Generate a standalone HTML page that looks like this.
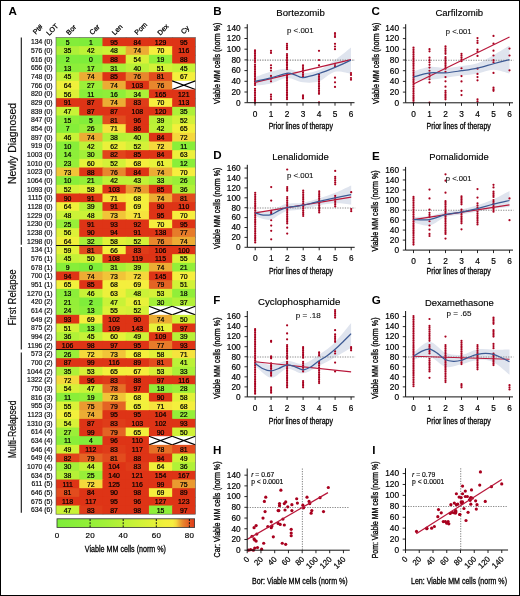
<!DOCTYPE html>
<html><head><meta charset="utf-8"><style>
html,body{margin:0;padding:0;background:#fff;}
svg{display:block;font-family:"Liberation Sans", sans-serif;will-change:transform;}
text{stroke:#000;stroke-width:0.18px;}
text.nb{stroke:none;}
.hm text{stroke-width:0.22px;}
</style></head><body>
<svg width="520" height="596" viewBox="0 0 520 596">
<rect x="0" y="0" width="520" height="596" fill="#fff"/>
<g>
<rect x="56.00" y="37.50" width="24.23" height="9.67" fill="#83ed3a"/>
<rect x="79.23" y="37.50" width="24.23" height="9.67" fill="#7fed3a"/>
<rect x="102.47" y="37.50" width="24.23" height="9.67" fill="#de3416"/>
<rect x="125.70" y="37.50" width="24.23" height="9.67" fill="#de3416"/>
<rect x="148.93" y="37.50" width="24.23" height="9.67" fill="#de3416"/>
<rect x="172.17" y="37.50" width="23.23" height="9.67" fill="#de3416"/>
<rect x="56.00" y="46.17" width="24.23" height="9.67" fill="#aef038"/>
<rect x="79.23" y="46.17" width="24.23" height="9.67" fill="#bef237"/>
<rect x="102.47" y="46.17" width="24.23" height="9.67" fill="#cbf237"/>
<rect x="125.70" y="46.17" width="24.23" height="9.67" fill="#ecac34"/>
<rect x="148.93" y="46.17" width="24.23" height="9.67" fill="#f6ee3e"/>
<rect x="172.17" y="46.17" width="23.23" height="9.67" fill="#de3416"/>
<rect x="56.00" y="54.83" width="24.23" height="9.67" fill="#80ed3a"/>
<rect x="79.23" y="54.83" width="24.23" height="9.67" fill="#7eed3a"/>
<rect x="102.47" y="54.83" width="24.23" height="9.67" fill="#de3416"/>
<rect x="125.70" y="54.83" width="24.23" height="9.67" fill="#d8f138"/>
<rect x="148.93" y="54.83" width="24.23" height="9.67" fill="#92ef38"/>
<rect x="172.17" y="54.83" width="23.23" height="9.67" fill="#de3416"/>
<rect x="56.00" y="63.50" width="24.23" height="9.67" fill="#8cee39"/>
<rect x="79.23" y="63.50" width="24.23" height="9.67" fill="#90ee39"/>
<rect x="102.47" y="63.50" width="24.23" height="9.67" fill="#a6f038"/>
<rect x="125.70" y="63.50" width="24.23" height="9.67" fill="#baf137"/>
<rect x="148.93" y="63.50" width="24.23" height="9.67" fill="#d2f237"/>
<rect x="172.17" y="63.50" width="23.23" height="9.67" fill="#c5f237"/>
<rect x="56.00" y="72.17" width="24.23" height="9.67" fill="#c5f237"/>
<rect x="79.23" y="72.17" width="24.23" height="9.67" fill="#ecac34"/>
<rect x="102.47" y="72.17" width="24.23" height="9.67" fill="#de3416"/>
<rect x="125.70" y="72.17" width="24.23" height="9.67" fill="#e8872d"/>
<rect x="148.93" y="72.17" width="24.23" height="9.67" fill="#e24c1e"/>
<rect x="172.17" y="72.17" width="23.23" height="9.67" fill="#f4ef3d"/>
<rect x="56.00" y="80.84" width="24.23" height="9.67" fill="#f0f03b"/>
<rect x="79.23" y="80.84" width="24.23" height="9.67" fill="#9cef38"/>
<rect x="102.47" y="80.84" width="24.23" height="9.67" fill="#ecac34"/>
<rect x="125.70" y="80.84" width="24.23" height="9.67" fill="#de3416"/>
<rect x="148.93" y="80.84" width="24.23" height="9.67" fill="#e8872d"/>
<rect x="172.17" y="80.84" width="23.53" height="8.97" fill="#fff"/>
<path d="M172.17 80.84L195.40 89.50M195.40 80.84L172.17 89.50" stroke="#000" stroke-width="1.15" fill="none"/>
<rect x="56.00" y="89.50" width="24.23" height="9.67" fill="#ddf138"/>
<rect x="79.23" y="89.50" width="24.23" height="9.67" fill="#89ee39"/>
<rect x="102.47" y="89.50" width="24.23" height="9.67" fill="#8fee39"/>
<rect x="125.70" y="89.50" width="24.23" height="9.67" fill="#acf038"/>
<rect x="148.93" y="89.50" width="24.23" height="9.67" fill="#de3416"/>
<rect x="172.17" y="89.50" width="23.23" height="9.67" fill="#de3416"/>
<rect x="56.00" y="98.17" width="24.23" height="9.67" fill="#de3416"/>
<rect x="79.23" y="98.17" width="24.23" height="9.67" fill="#de3416"/>
<rect x="102.47" y="98.17" width="24.23" height="9.67" fill="#ecac34"/>
<rect x="125.70" y="98.17" width="24.23" height="9.67" fill="#df3c19"/>
<rect x="148.93" y="98.17" width="24.23" height="9.67" fill="#f6ee3e"/>
<rect x="172.17" y="98.17" width="23.23" height="9.67" fill="#de3416"/>
<rect x="56.00" y="106.84" width="24.23" height="9.67" fill="#c9f237"/>
<rect x="79.23" y="106.84" width="24.23" height="9.67" fill="#de3416"/>
<rect x="102.47" y="106.84" width="24.23" height="9.67" fill="#de3416"/>
<rect x="125.70" y="106.84" width="24.23" height="9.67" fill="#de3416"/>
<rect x="148.93" y="106.84" width="24.23" height="9.67" fill="#de3416"/>
<rect x="172.17" y="106.84" width="23.23" height="9.67" fill="#aef038"/>
<rect x="56.00" y="115.51" width="24.23" height="9.67" fill="#8eee39"/>
<rect x="79.23" y="115.51" width="24.23" height="9.67" fill="#83ed3a"/>
<rect x="102.47" y="115.51" width="24.23" height="9.67" fill="#e24c1e"/>
<rect x="125.70" y="115.51" width="24.23" height="9.67" fill="#de3416"/>
<rect x="148.93" y="115.51" width="24.23" height="9.67" fill="#b8f137"/>
<rect x="172.17" y="115.51" width="23.23" height="9.67" fill="#d4f138"/>
<rect x="56.00" y="124.17" width="24.23" height="9.67" fill="#85ee39"/>
<rect x="79.23" y="124.17" width="24.23" height="9.67" fill="#9aef38"/>
<rect x="102.47" y="124.17" width="24.23" height="9.67" fill="#f6e33d"/>
<rect x="125.70" y="124.17" width="24.23" height="9.67" fill="#de3416"/>
<rect x="148.93" y="124.17" width="24.23" height="9.67" fill="#bef237"/>
<rect x="172.17" y="124.17" width="23.23" height="9.67" fill="#f2f03c"/>
<rect x="56.00" y="132.84" width="24.23" height="9.67" fill="#c7f237"/>
<rect x="79.23" y="132.84" width="24.23" height="9.67" fill="#ecac34"/>
<rect x="102.47" y="132.84" width="24.23" height="9.67" fill="#b5f137"/>
<rect x="125.70" y="132.84" width="24.23" height="9.67" fill="#baf137"/>
<rect x="148.93" y="132.84" width="24.23" height="9.67" fill="#de3416"/>
<rect x="172.17" y="132.84" width="23.23" height="9.67" fill="#f5d83c"/>
<rect x="56.00" y="141.51" width="24.23" height="9.67" fill="#88ee39"/>
<rect x="79.23" y="141.51" width="24.23" height="9.67" fill="#bef237"/>
<rect x="102.47" y="141.51" width="24.23" height="9.67" fill="#ebf03a"/>
<rect x="125.70" y="141.51" width="24.23" height="9.67" fill="#d4f138"/>
<rect x="148.93" y="141.51" width="24.23" height="9.67" fill="#f5d83c"/>
<rect x="172.17" y="141.51" width="23.23" height="9.67" fill="#89ee39"/>
<rect x="56.00" y="150.17" width="24.23" height="9.67" fill="#8dee39"/>
<rect x="79.23" y="150.17" width="24.23" height="9.67" fill="#a3f038"/>
<rect x="102.47" y="150.17" width="24.23" height="9.67" fill="#e1441b"/>
<rect x="125.70" y="150.17" width="24.23" height="9.67" fill="#de3416"/>
<rect x="148.93" y="150.17" width="24.23" height="9.67" fill="#de3416"/>
<rect x="172.17" y="150.17" width="23.23" height="9.67" fill="#edf03b"/>
<rect x="56.00" y="158.84" width="24.23" height="9.67" fill="#96ef38"/>
<rect x="79.23" y="158.84" width="24.23" height="9.67" fill="#e6f139"/>
<rect x="102.47" y="158.84" width="24.23" height="9.67" fill="#d4f138"/>
<rect x="125.70" y="158.84" width="24.23" height="9.67" fill="#f4ef3d"/>
<rect x="148.93" y="158.84" width="24.23" height="9.67" fill="#e8f13a"/>
<rect x="172.17" y="158.84" width="23.23" height="9.67" fill="#8aee39"/>
<rect x="56.00" y="167.51" width="24.23" height="9.67" fill="#f1c438"/>
<rect x="79.23" y="167.51" width="24.23" height="9.67" fill="#de3416"/>
<rect x="102.47" y="167.51" width="24.23" height="9.67" fill="#e8872d"/>
<rect x="125.70" y="167.51" width="24.23" height="9.67" fill="#de3416"/>
<rect x="148.93" y="167.51" width="24.23" height="9.67" fill="#ecac34"/>
<rect x="172.17" y="167.51" width="23.23" height="9.67" fill="#f6ee3e"/>
<rect x="56.00" y="176.18" width="24.23" height="9.67" fill="#88ee39"/>
<rect x="79.23" y="176.18" width="24.23" height="9.67" fill="#94ef38"/>
<rect x="102.47" y="176.18" width="24.23" height="9.67" fill="#bef237"/>
<rect x="125.70" y="176.18" width="24.23" height="9.67" fill="#c0f237"/>
<rect x="148.93" y="176.18" width="24.23" height="9.67" fill="#aaf038"/>
<rect x="172.17" y="176.18" width="23.23" height="9.67" fill="#9aef38"/>
<rect x="56.00" y="184.84" width="24.23" height="9.67" fill="#d4f138"/>
<rect x="79.23" y="184.84" width="24.23" height="9.67" fill="#e1f138"/>
<rect x="102.47" y="184.84" width="24.23" height="9.67" fill="#de3416"/>
<rect x="125.70" y="184.84" width="24.23" height="9.67" fill="#ea9a30"/>
<rect x="148.93" y="184.84" width="24.23" height="9.67" fill="#de3416"/>
<rect x="172.17" y="184.84" width="23.23" height="9.67" fill="#b1f137"/>
<rect x="56.00" y="193.51" width="24.23" height="9.67" fill="#de3416"/>
<rect x="79.23" y="193.51" width="24.23" height="9.67" fill="#de3416"/>
<rect x="102.47" y="193.51" width="24.23" height="9.67" fill="#f6e33d"/>
<rect x="125.70" y="193.51" width="24.23" height="9.67" fill="#f4ef3d"/>
<rect x="148.93" y="193.51" width="24.23" height="9.67" fill="#ecac34"/>
<rect x="172.17" y="193.51" width="23.23" height="9.67" fill="#e24c1e"/>
<rect x="56.00" y="202.18" width="24.23" height="9.67" fill="#f0f03b"/>
<rect x="79.23" y="202.18" width="24.23" height="9.67" fill="#b8f137"/>
<rect x="102.47" y="202.18" width="24.23" height="9.67" fill="#de3416"/>
<rect x="125.70" y="202.18" width="24.23" height="9.67" fill="#f5ee3e"/>
<rect x="148.93" y="202.18" width="24.23" height="9.67" fill="#de3416"/>
<rect x="172.17" y="202.18" width="23.23" height="9.67" fill="#de3416"/>
<rect x="56.00" y="210.85" width="24.23" height="9.67" fill="#cbf237"/>
<rect x="79.23" y="210.85" width="24.23" height="9.67" fill="#cbf237"/>
<rect x="102.47" y="210.85" width="24.23" height="9.67" fill="#f1c438"/>
<rect x="125.70" y="210.85" width="24.23" height="9.67" fill="#f6e33d"/>
<rect x="148.93" y="210.85" width="24.23" height="9.67" fill="#de3416"/>
<rect x="172.17" y="210.85" width="23.23" height="9.67" fill="#f6ee3e"/>
<rect x="56.00" y="219.51" width="24.23" height="9.67" fill="#98ef38"/>
<rect x="79.23" y="219.51" width="24.23" height="9.67" fill="#de3416"/>
<rect x="102.47" y="219.51" width="24.23" height="9.67" fill="#de3416"/>
<rect x="125.70" y="219.51" width="24.23" height="9.67" fill="#de3416"/>
<rect x="148.93" y="219.51" width="24.23" height="9.67" fill="#f6ee3e"/>
<rect x="172.17" y="219.51" width="23.23" height="9.67" fill="#de3416"/>
<rect x="56.00" y="228.18" width="24.23" height="9.67" fill="#ddf138"/>
<rect x="79.23" y="228.18" width="24.23" height="9.67" fill="#de3416"/>
<rect x="102.47" y="228.18" width="24.23" height="9.67" fill="#de3416"/>
<rect x="125.70" y="228.18" width="24.23" height="9.67" fill="#de3416"/>
<rect x="148.93" y="228.18" width="24.23" height="9.67" fill="#de3416"/>
<rect x="172.17" y="228.18" width="23.23" height="9.67" fill="#e77b2a"/>
<rect x="56.00" y="236.85" width="24.23" height="9.67" fill="#f0f03b"/>
<rect x="79.23" y="236.85" width="24.23" height="9.67" fill="#a8f038"/>
<rect x="102.47" y="236.85" width="24.23" height="9.67" fill="#e1f138"/>
<rect x="125.70" y="236.85" width="24.23" height="9.67" fill="#d4f138"/>
<rect x="148.93" y="236.85" width="24.23" height="9.67" fill="#e8872d"/>
<rect x="172.17" y="236.85" width="23.23" height="9.67" fill="#ecac34"/>
<rect x="56.00" y="245.51" width="24.23" height="9.67" fill="#e3f139"/>
<rect x="79.23" y="245.51" width="24.23" height="9.67" fill="#e24c1e"/>
<rect x="102.47" y="245.51" width="24.23" height="9.67" fill="#f3f03c"/>
<rect x="125.70" y="245.51" width="24.23" height="9.67" fill="#df3c19"/>
<rect x="148.93" y="245.51" width="24.23" height="9.67" fill="#de3416"/>
<rect x="172.17" y="245.51" width="23.23" height="9.67" fill="#de3416"/>
<rect x="56.00" y="254.18" width="24.23" height="9.67" fill="#c5f237"/>
<rect x="79.23" y="254.18" width="24.23" height="9.67" fill="#d0f237"/>
<rect x="102.47" y="254.18" width="24.23" height="9.67" fill="#de3416"/>
<rect x="125.70" y="254.18" width="24.23" height="9.67" fill="#de3416"/>
<rect x="148.93" y="254.18" width="24.23" height="9.67" fill="#de3416"/>
<rect x="172.17" y="254.18" width="23.23" height="9.67" fill="#dbf138"/>
<rect x="56.00" y="262.85" width="24.23" height="9.67" fill="#87ee39"/>
<rect x="79.23" y="262.85" width="24.23" height="9.67" fill="#7eed3a"/>
<rect x="102.47" y="262.85" width="24.23" height="9.67" fill="#a6f038"/>
<rect x="125.70" y="262.85" width="24.23" height="9.67" fill="#b8f137"/>
<rect x="148.93" y="262.85" width="24.23" height="9.67" fill="#ecac34"/>
<rect x="172.17" y="262.85" width="23.23" height="9.67" fill="#94ef38"/>
<rect x="56.00" y="271.52" width="24.23" height="9.67" fill="#de3416"/>
<rect x="79.23" y="271.52" width="24.23" height="9.67" fill="#ecac34"/>
<rect x="102.47" y="271.52" width="24.23" height="9.67" fill="#f1c438"/>
<rect x="125.70" y="271.52" width="24.23" height="9.67" fill="#f5d83c"/>
<rect x="148.93" y="271.52" width="24.23" height="9.67" fill="#de3416"/>
<rect x="172.17" y="271.52" width="23.23" height="9.67" fill="#f6ee3e"/>
<rect x="56.00" y="280.18" width="24.23" height="9.67" fill="#f2f03c"/>
<rect x="79.23" y="280.18" width="24.23" height="9.67" fill="#de3416"/>
<rect x="102.47" y="280.18" width="24.23" height="9.67" fill="#f4ef3d"/>
<rect x="125.70" y="280.18" width="24.23" height="9.67" fill="#f5ee3e"/>
<rect x="148.93" y="280.18" width="24.23" height="9.67" fill="#e46424"/>
<rect x="172.17" y="280.18" width="23.23" height="9.67" fill="#d2f237"/>
<rect x="56.00" y="288.85" width="24.23" height="9.67" fill="#8cee39"/>
<rect x="79.23" y="288.85" width="24.23" height="9.67" fill="#c7f237"/>
<rect x="102.47" y="288.85" width="24.23" height="9.67" fill="#edf03b"/>
<rect x="125.70" y="288.85" width="24.23" height="9.67" fill="#cbf237"/>
<rect x="148.93" y="288.85" width="24.23" height="9.67" fill="#d6f138"/>
<rect x="172.17" y="288.85" width="23.23" height="9.67" fill="#91ee39"/>
<rect x="56.00" y="297.52" width="24.23" height="9.67" fill="#94ef38"/>
<rect x="79.23" y="297.52" width="24.23" height="9.67" fill="#80ed3a"/>
<rect x="102.47" y="297.52" width="24.23" height="9.67" fill="#c9f237"/>
<rect x="125.70" y="297.52" width="24.23" height="9.67" fill="#e8f13a"/>
<rect x="148.93" y="297.52" width="24.23" height="9.67" fill="#a3f038"/>
<rect x="172.17" y="297.52" width="23.23" height="9.67" fill="#b3f137"/>
<rect x="56.00" y="306.19" width="24.23" height="9.67" fill="#97ef38"/>
<rect x="79.23" y="306.19" width="24.23" height="9.67" fill="#8cee39"/>
<rect x="102.47" y="306.19" width="24.23" height="9.67" fill="#dbf138"/>
<rect x="125.70" y="306.19" width="24.23" height="9.67" fill="#d4f138"/>
<rect x="148.93" y="306.19" width="23.53" height="8.97" fill="#fff"/>
<path d="M148.93 306.19L172.17 314.85M172.17 306.19L148.93 314.85" stroke="#000" stroke-width="1.15" fill="none"/>
<rect x="172.17" y="306.19" width="23.53" height="8.97" fill="#fff"/>
<path d="M172.17 306.19L195.40 314.85M195.40 306.19L172.17 314.85" stroke="#000" stroke-width="1.15" fill="none"/>
<rect x="56.00" y="314.85" width="24.23" height="9.67" fill="#de3416"/>
<rect x="79.23" y="314.85" width="24.23" height="9.67" fill="#f5ee3e"/>
<rect x="102.47" y="314.85" width="24.23" height="9.67" fill="#de3416"/>
<rect x="125.70" y="314.85" width="24.23" height="9.67" fill="#de3416"/>
<rect x="148.93" y="314.85" width="24.23" height="9.67" fill="#ecac34"/>
<rect x="172.17" y="314.85" width="23.23" height="9.67" fill="#d0f237"/>
<rect x="56.00" y="323.52" width="24.23" height="9.67" fill="#d2f237"/>
<rect x="79.23" y="323.52" width="24.23" height="9.67" fill="#8cee39"/>
<rect x="102.47" y="323.52" width="24.23" height="9.67" fill="#de3416"/>
<rect x="125.70" y="323.52" width="24.23" height="9.67" fill="#de3416"/>
<rect x="148.93" y="323.52" width="24.23" height="9.67" fill="#e8f13a"/>
<rect x="172.17" y="323.52" width="23.23" height="9.67" fill="#de3416"/>
<rect x="56.00" y="332.19" width="24.23" height="9.67" fill="#b1f137"/>
<rect x="79.23" y="332.19" width="24.23" height="9.67" fill="#c5f237"/>
<rect x="102.47" y="332.19" width="24.23" height="9.67" fill="#e6f139"/>
<rect x="125.70" y="332.19" width="24.23" height="9.67" fill="#cef237"/>
<rect x="148.93" y="332.19" width="24.23" height="9.67" fill="#de3416"/>
<rect x="172.17" y="332.19" width="23.23" height="9.67" fill="#b8f137"/>
<rect x="56.00" y="340.85" width="24.23" height="9.67" fill="#de3416"/>
<rect x="79.23" y="340.85" width="24.23" height="9.67" fill="#de3416"/>
<rect x="102.47" y="340.85" width="24.23" height="9.67" fill="#de3416"/>
<rect x="125.70" y="340.85" width="24.23" height="9.67" fill="#de3416"/>
<rect x="148.93" y="340.85" width="24.23" height="9.67" fill="#e77b2a"/>
<rect x="172.17" y="340.85" width="23.23" height="9.67" fill="#de3416"/>
<rect x="56.00" y="349.52" width="24.23" height="9.67" fill="#9aef38"/>
<rect x="79.23" y="349.52" width="24.23" height="9.67" fill="#f5d83c"/>
<rect x="102.47" y="349.52" width="24.23" height="9.67" fill="#f1c438"/>
<rect x="125.70" y="349.52" width="24.23" height="9.67" fill="#f4ef3d"/>
<rect x="148.93" y="349.52" width="24.23" height="9.67" fill="#e1f138"/>
<rect x="172.17" y="349.52" width="23.23" height="9.67" fill="#f6e33d"/>
<rect x="56.00" y="358.19" width="24.23" height="9.67" fill="#de3416"/>
<rect x="79.23" y="358.19" width="24.23" height="9.67" fill="#de3416"/>
<rect x="102.47" y="358.19" width="24.23" height="9.67" fill="#de3416"/>
<rect x="125.70" y="358.19" width="24.23" height="9.67" fill="#de3416"/>
<rect x="148.93" y="358.19" width="24.23" height="9.67" fill="#e24c1e"/>
<rect x="172.17" y="358.19" width="23.23" height="9.67" fill="#bcf137"/>
<rect x="56.00" y="366.86" width="24.23" height="9.67" fill="#aef038"/>
<rect x="79.23" y="366.86" width="24.23" height="9.67" fill="#d6f138"/>
<rect x="102.47" y="366.86" width="24.23" height="9.67" fill="#f2f03c"/>
<rect x="125.70" y="366.86" width="24.23" height="9.67" fill="#f4ef3d"/>
<rect x="148.93" y="366.86" width="24.23" height="9.67" fill="#d6f138"/>
<rect x="172.17" y="366.86" width="23.23" height="9.67" fill="#aaf038"/>
<rect x="56.00" y="375.52" width="24.23" height="9.67" fill="#f5d83c"/>
<rect x="79.23" y="375.52" width="24.23" height="9.67" fill="#de3416"/>
<rect x="102.47" y="375.52" width="24.23" height="9.67" fill="#df3c19"/>
<rect x="125.70" y="375.52" width="24.23" height="9.67" fill="#de3416"/>
<rect x="148.93" y="375.52" width="24.23" height="9.67" fill="#de3416"/>
<rect x="172.17" y="375.52" width="23.23" height="9.67" fill="#de3416"/>
<rect x="56.00" y="384.19" width="24.23" height="9.67" fill="#d8f138"/>
<rect x="79.23" y="384.19" width="24.23" height="9.67" fill="#c9f237"/>
<rect x="102.47" y="384.19" width="24.23" height="9.67" fill="#e57027"/>
<rect x="125.70" y="384.19" width="24.23" height="9.67" fill="#de3416"/>
<rect x="148.93" y="384.19" width="24.23" height="9.67" fill="#91ee39"/>
<rect x="172.17" y="384.19" width="23.23" height="9.67" fill="#9fef38"/>
<rect x="56.00" y="392.86" width="24.23" height="9.67" fill="#89ee39"/>
<rect x="79.23" y="392.86" width="24.23" height="9.67" fill="#92ef38"/>
<rect x="102.47" y="392.86" width="24.23" height="9.67" fill="#f1c438"/>
<rect x="125.70" y="392.86" width="24.23" height="9.67" fill="#f4ef3d"/>
<rect x="148.93" y="392.86" width="24.23" height="9.67" fill="#de3416"/>
<rect x="172.17" y="392.86" width="23.23" height="9.67" fill="#e1f138"/>
<rect x="56.00" y="401.53" width="24.23" height="9.67" fill="#dbf138"/>
<rect x="79.23" y="401.53" width="24.23" height="9.67" fill="#ea9a30"/>
<rect x="102.47" y="401.53" width="24.23" height="9.67" fill="#e46424"/>
<rect x="125.70" y="401.53" width="24.23" height="9.67" fill="#f2f03c"/>
<rect x="148.93" y="401.53" width="24.23" height="9.67" fill="#f6e33d"/>
<rect x="172.17" y="401.53" width="23.23" height="9.67" fill="#f4ef3d"/>
<rect x="56.00" y="410.19" width="24.23" height="9.67" fill="#f2f03c"/>
<rect x="79.23" y="410.19" width="24.23" height="9.67" fill="#ecac34"/>
<rect x="102.47" y="410.19" width="24.23" height="9.67" fill="#de3416"/>
<rect x="125.70" y="410.19" width="24.23" height="9.67" fill="#de3416"/>
<rect x="148.93" y="410.19" width="24.23" height="9.67" fill="#de3416"/>
<rect x="172.17" y="410.19" width="23.23" height="9.67" fill="#95ef38"/>
<rect x="56.00" y="418.86" width="24.23" height="9.67" fill="#d8f138"/>
<rect x="79.23" y="418.86" width="24.23" height="9.67" fill="#de3416"/>
<rect x="102.47" y="418.86" width="24.23" height="9.67" fill="#df3c19"/>
<rect x="125.70" y="418.86" width="24.23" height="9.67" fill="#de3416"/>
<rect x="148.93" y="418.86" width="24.23" height="9.67" fill="#de3416"/>
<rect x="172.17" y="418.86" width="23.23" height="9.67" fill="#de3416"/>
<rect x="56.00" y="427.53" width="24.23" height="9.67" fill="#9cef38"/>
<rect x="79.23" y="427.53" width="24.23" height="9.67" fill="#de3416"/>
<rect x="102.47" y="427.53" width="24.23" height="9.67" fill="#e46424"/>
<rect x="125.70" y="427.53" width="24.23" height="9.67" fill="#f2f03c"/>
<rect x="148.93" y="427.53" width="24.23" height="9.67" fill="#de3416"/>
<rect x="172.17" y="427.53" width="23.23" height="9.67" fill="#d0f237"/>
<rect x="56.00" y="436.19" width="24.23" height="9.67" fill="#89ee39"/>
<rect x="79.23" y="436.19" width="24.23" height="9.67" fill="#82ed3a"/>
<rect x="102.47" y="436.19" width="24.23" height="9.67" fill="#de3416"/>
<rect x="125.70" y="436.19" width="24.23" height="9.67" fill="#de3416"/>
<rect x="148.93" y="436.19" width="23.53" height="8.97" fill="#fff"/>
<path d="M148.93 436.19L172.17 444.86M172.17 436.19L148.93 444.86" stroke="#000" stroke-width="1.15" fill="none"/>
<rect x="172.17" y="436.19" width="23.53" height="8.97" fill="#fff"/>
<path d="M172.17 436.19L195.40 444.86M195.40 436.19L172.17 444.86" stroke="#000" stroke-width="1.15" fill="none"/>
<rect x="56.00" y="444.86" width="24.23" height="9.67" fill="#cef237"/>
<rect x="79.23" y="444.86" width="24.23" height="9.67" fill="#de3416"/>
<rect x="102.47" y="444.86" width="24.23" height="9.67" fill="#df3c19"/>
<rect x="125.70" y="444.86" width="24.23" height="9.67" fill="#de3416"/>
<rect x="148.93" y="444.86" width="24.23" height="9.67" fill="#e57027"/>
<rect x="172.17" y="444.86" width="23.23" height="9.67" fill="#e24c1e"/>
<rect x="56.00" y="453.53" width="24.23" height="9.67" fill="#e1441b"/>
<rect x="79.23" y="453.53" width="24.23" height="9.67" fill="#e46424"/>
<rect x="102.47" y="453.53" width="24.23" height="9.67" fill="#e24c1e"/>
<rect x="125.70" y="453.53" width="24.23" height="9.67" fill="#de3416"/>
<rect x="148.93" y="453.53" width="24.23" height="9.67" fill="#de3416"/>
<rect x="172.17" y="453.53" width="23.23" height="9.67" fill="#cef237"/>
<rect x="56.00" y="462.20" width="24.23" height="9.67" fill="#a3f038"/>
<rect x="79.23" y="462.20" width="24.23" height="9.67" fill="#c3f237"/>
<rect x="102.47" y="462.20" width="24.23" height="9.67" fill="#de3416"/>
<rect x="125.70" y="462.20" width="24.23" height="9.67" fill="#df3c19"/>
<rect x="148.93" y="462.20" width="24.23" height="9.67" fill="#f0f03b"/>
<rect x="172.17" y="462.20" width="23.23" height="9.67" fill="#b1f137"/>
<rect x="56.00" y="470.86" width="24.23" height="9.67" fill="#b5f137"/>
<rect x="79.23" y="470.86" width="24.23" height="9.67" fill="#98ef38"/>
<rect x="102.47" y="470.86" width="24.23" height="9.67" fill="#de3416"/>
<rect x="125.70" y="470.86" width="24.23" height="9.67" fill="#de3416"/>
<rect x="148.93" y="470.86" width="24.23" height="9.67" fill="#de3416"/>
<rect x="172.17" y="470.86" width="23.23" height="9.67" fill="#de3416"/>
<rect x="56.00" y="479.53" width="24.23" height="9.67" fill="#de3416"/>
<rect x="79.23" y="479.53" width="24.23" height="9.67" fill="#f5d83c"/>
<rect x="102.47" y="479.53" width="24.23" height="9.67" fill="#de3416"/>
<rect x="125.70" y="479.53" width="24.23" height="9.67" fill="#de3416"/>
<rect x="148.93" y="479.53" width="24.23" height="9.67" fill="#de3416"/>
<rect x="172.17" y="479.53" width="23.23" height="9.67" fill="#ea9a30"/>
<rect x="56.00" y="488.20" width="24.23" height="9.67" fill="#e24c1e"/>
<rect x="79.23" y="488.20" width="24.23" height="9.67" fill="#de3416"/>
<rect x="102.47" y="488.20" width="24.23" height="9.67" fill="#de3416"/>
<rect x="125.70" y="488.20" width="24.23" height="9.67" fill="#de3416"/>
<rect x="148.93" y="488.20" width="24.23" height="9.67" fill="#f5ee3e"/>
<rect x="172.17" y="488.20" width="23.23" height="9.67" fill="#de3416"/>
<rect x="56.00" y="496.87" width="24.23" height="9.67" fill="#de3416"/>
<rect x="79.23" y="496.87" width="24.23" height="9.67" fill="#de3416"/>
<rect x="102.47" y="496.87" width="24.23" height="9.67" fill="#de3416"/>
<rect x="125.70" y="496.87" width="24.23" height="9.67" fill="#de3416"/>
<rect x="148.93" y="496.87" width="24.23" height="9.67" fill="#de3416"/>
<rect x="172.17" y="496.87" width="23.23" height="9.67" fill="#de3416"/>
<rect x="56.00" y="505.53" width="24.23" height="8.67" fill="#c9f237"/>
<rect x="79.23" y="505.53" width="24.23" height="8.67" fill="#df3c19"/>
<rect x="102.47" y="505.53" width="24.23" height="8.67" fill="#de3416"/>
<rect x="125.70" y="505.53" width="24.23" height="8.67" fill="#de3416"/>
<rect x="148.93" y="505.53" width="24.23" height="8.67" fill="#8eee39"/>
<rect x="172.17" y="505.53" width="23.23" height="8.67" fill="#de3416"/>
<g class="hm" font-size="6.9" fill="#000" text-anchor="middle">
<text x="67.62" y="44.73">5</text>
<text x="90.85" y="44.73">1</text>
<text x="114.08" y="44.73">95</text>
<text x="137.32" y="44.73">84</text>
<text x="160.55" y="44.73">129</text>
<text x="183.78" y="44.73">95</text>
<text x="67.62" y="53.40">35</text>
<text x="90.85" y="53.40">42</text>
<text x="114.08" y="53.40">48</text>
<text x="137.32" y="53.40">74</text>
<text x="160.55" y="53.40">70</text>
<text x="183.78" y="53.40">116</text>
<text x="67.62" y="62.07">2</text>
<text x="90.85" y="62.07">0</text>
<text x="114.08" y="62.07">88</text>
<text x="137.32" y="62.07">54</text>
<text x="160.55" y="62.07">19</text>
<text x="183.78" y="62.07">88</text>
<text x="67.62" y="70.74">13</text>
<text x="90.85" y="70.74">17</text>
<text x="114.08" y="70.74">31</text>
<text x="137.32" y="70.74">40</text>
<text x="160.55" y="70.74">51</text>
<text x="183.78" y="70.74">45</text>
<text x="67.62" y="79.40">45</text>
<text x="90.85" y="79.40">74</text>
<text x="114.08" y="79.40">85</text>
<text x="137.32" y="79.40">76</text>
<text x="160.55" y="79.40">81</text>
<text x="183.78" y="79.40">67</text>
<text x="67.62" y="88.07">64</text>
<text x="90.85" y="88.07">27</text>
<text x="114.08" y="88.07">74</text>
<text x="137.32" y="88.07">103</text>
<text x="160.55" y="88.07">76</text>
<text x="67.62" y="96.74">56</text>
<text x="90.85" y="96.74">11</text>
<text x="114.08" y="96.74">16</text>
<text x="137.32" y="96.74">34</text>
<text x="160.55" y="96.74">165</text>
<text x="183.78" y="96.74">121</text>
<text x="67.62" y="105.40">91</text>
<text x="90.85" y="105.40">87</text>
<text x="114.08" y="105.40">74</text>
<text x="137.32" y="105.40">83</text>
<text x="160.55" y="105.40">70</text>
<text x="183.78" y="105.40">113</text>
<text x="67.62" y="114.07">47</text>
<text x="90.85" y="114.07">87</text>
<text x="114.08" y="114.07">87</text>
<text x="137.32" y="114.07">108</text>
<text x="160.55" y="114.07">120</text>
<text x="183.78" y="114.07">35</text>
<text x="67.62" y="122.74">15</text>
<text x="90.85" y="122.74">5</text>
<text x="114.08" y="122.74">81</text>
<text x="137.32" y="122.74">96</text>
<text x="160.55" y="122.74">39</text>
<text x="183.78" y="122.74">52</text>
<text x="67.62" y="131.41">7</text>
<text x="90.85" y="131.41">26</text>
<text x="114.08" y="131.41">71</text>
<text x="137.32" y="131.41">86</text>
<text x="160.55" y="131.41">42</text>
<text x="183.78" y="131.41">65</text>
<text x="67.62" y="140.07">46</text>
<text x="90.85" y="140.07">74</text>
<text x="114.08" y="140.07">38</text>
<text x="137.32" y="140.07">40</text>
<text x="160.55" y="140.07">84</text>
<text x="183.78" y="140.07">72</text>
<text x="67.62" y="148.74">10</text>
<text x="90.85" y="148.74">42</text>
<text x="114.08" y="148.74">62</text>
<text x="137.32" y="148.74">52</text>
<text x="160.55" y="148.74">72</text>
<text x="183.78" y="148.74">11</text>
<text x="67.62" y="157.41">14</text>
<text x="90.85" y="157.41">30</text>
<text x="114.08" y="157.41">82</text>
<text x="137.32" y="157.41">85</text>
<text x="160.55" y="157.41">84</text>
<text x="183.78" y="157.41">63</text>
<text x="67.62" y="166.08">23</text>
<text x="90.85" y="166.08">60</text>
<text x="114.08" y="166.08">52</text>
<text x="137.32" y="166.08">68</text>
<text x="160.55" y="166.08">61</text>
<text x="183.78" y="166.08">12</text>
<text x="67.62" y="174.74">73</text>
<text x="90.85" y="174.74">88</text>
<text x="114.08" y="174.74">76</text>
<text x="137.32" y="174.74">84</text>
<text x="160.55" y="174.74">74</text>
<text x="183.78" y="174.74">70</text>
<text x="67.62" y="183.41">10</text>
<text x="90.85" y="183.41">21</text>
<text x="114.08" y="183.41">42</text>
<text x="137.32" y="183.41">43</text>
<text x="160.55" y="183.41">33</text>
<text x="183.78" y="183.41">26</text>
<text x="67.62" y="192.08">52</text>
<text x="90.85" y="192.08">58</text>
<text x="114.08" y="192.08">103</text>
<text x="137.32" y="192.08">75</text>
<text x="160.55" y="192.08">85</text>
<text x="183.78" y="192.08">36</text>
<text x="67.62" y="200.74">90</text>
<text x="90.85" y="200.74">91</text>
<text x="114.08" y="200.74">71</text>
<text x="137.32" y="200.74">68</text>
<text x="160.55" y="200.74">74</text>
<text x="183.78" y="200.74">81</text>
<text x="67.62" y="209.41">64</text>
<text x="90.85" y="209.41">39</text>
<text x="114.08" y="209.41">91</text>
<text x="137.32" y="209.41">69</text>
<text x="160.55" y="209.41">90</text>
<text x="183.78" y="209.41">110</text>
<text x="67.62" y="218.08">48</text>
<text x="90.85" y="218.08">48</text>
<text x="114.08" y="218.08">73</text>
<text x="137.32" y="218.08">71</text>
<text x="160.55" y="218.08">95</text>
<text x="183.78" y="218.08">70</text>
<text x="67.62" y="226.75">25</text>
<text x="90.85" y="226.75">91</text>
<text x="114.08" y="226.75">93</text>
<text x="137.32" y="226.75">92</text>
<text x="160.55" y="226.75">70</text>
<text x="183.78" y="226.75">95</text>
<text x="67.62" y="235.41">56</text>
<text x="90.85" y="235.41">90</text>
<text x="114.08" y="235.41">94</text>
<text x="137.32" y="235.41">91</text>
<text x="160.55" y="235.41">138</text>
<text x="183.78" y="235.41">77</text>
<text x="67.62" y="244.08">64</text>
<text x="90.85" y="244.08">32</text>
<text x="114.08" y="244.08">58</text>
<text x="137.32" y="244.08">52</text>
<text x="160.55" y="244.08">76</text>
<text x="183.78" y="244.08">74</text>
<text x="67.62" y="252.75">59</text>
<text x="90.85" y="252.75">81</text>
<text x="114.08" y="252.75">66</text>
<text x="137.32" y="252.75">83</text>
<text x="160.55" y="252.75">106</text>
<text x="183.78" y="252.75">100</text>
<text x="67.62" y="261.42">45</text>
<text x="90.85" y="261.42">50</text>
<text x="114.08" y="261.42">108</text>
<text x="137.32" y="261.42">119</text>
<text x="160.55" y="261.42">115</text>
<text x="183.78" y="261.42">55</text>
<text x="67.62" y="270.08">9</text>
<text x="90.85" y="270.08">0</text>
<text x="114.08" y="270.08">31</text>
<text x="137.32" y="270.08">39</text>
<text x="160.55" y="270.08">74</text>
<text x="183.78" y="270.08">21</text>
<text x="67.62" y="278.75">94</text>
<text x="90.85" y="278.75">74</text>
<text x="114.08" y="278.75">73</text>
<text x="137.32" y="278.75">72</text>
<text x="160.55" y="278.75">145</text>
<text x="183.78" y="278.75">70</text>
<text x="67.62" y="287.42">65</text>
<text x="90.85" y="287.42">85</text>
<text x="114.08" y="287.42">68</text>
<text x="137.32" y="287.42">69</text>
<text x="160.55" y="287.42">79</text>
<text x="183.78" y="287.42">51</text>
<text x="67.62" y="296.08">13</text>
<text x="90.85" y="296.08">46</text>
<text x="114.08" y="296.08">63</text>
<text x="137.32" y="296.08">48</text>
<text x="160.55" y="296.08">53</text>
<text x="183.78" y="296.08">18</text>
<text x="67.62" y="304.75">21</text>
<text x="90.85" y="304.75">2</text>
<text x="114.08" y="304.75">47</text>
<text x="137.32" y="304.75">61</text>
<text x="160.55" y="304.75">30</text>
<text x="183.78" y="304.75">37</text>
<text x="67.62" y="313.42">24</text>
<text x="90.85" y="313.42">13</text>
<text x="114.08" y="313.42">55</text>
<text x="137.32" y="313.42">52</text>
<text x="67.62" y="322.09">93</text>
<text x="90.85" y="322.09">69</text>
<text x="114.08" y="322.09">102</text>
<text x="137.32" y="322.09">90</text>
<text x="160.55" y="322.09">74</text>
<text x="183.78" y="322.09">50</text>
<text x="67.62" y="330.75">51</text>
<text x="90.85" y="330.75">13</text>
<text x="114.08" y="330.75">109</text>
<text x="137.32" y="330.75">143</text>
<text x="160.55" y="330.75">61</text>
<text x="183.78" y="330.75">97</text>
<text x="67.62" y="339.42">36</text>
<text x="90.85" y="339.42">45</text>
<text x="114.08" y="339.42">60</text>
<text x="137.32" y="339.42">49</text>
<text x="160.55" y="339.42">109</text>
<text x="183.78" y="339.42">39</text>
<text x="67.62" y="348.09">106</text>
<text x="90.85" y="348.09">98</text>
<text x="114.08" y="348.09">97</text>
<text x="137.32" y="348.09">95</text>
<text x="160.55" y="348.09">77</text>
<text x="183.78" y="348.09">93</text>
<text x="67.62" y="356.76">26</text>
<text x="90.85" y="356.76">72</text>
<text x="114.08" y="356.76">73</text>
<text x="137.32" y="356.76">68</text>
<text x="160.55" y="356.76">58</text>
<text x="183.78" y="356.76">71</text>
<text x="67.62" y="365.42">87</text>
<text x="90.85" y="365.42">99</text>
<text x="114.08" y="365.42">116</text>
<text x="137.32" y="365.42">89</text>
<text x="160.55" y="365.42">81</text>
<text x="183.78" y="365.42">41</text>
<text x="67.62" y="374.09">35</text>
<text x="90.85" y="374.09">53</text>
<text x="114.08" y="374.09">65</text>
<text x="137.32" y="374.09">67</text>
<text x="160.55" y="374.09">53</text>
<text x="183.78" y="374.09">33</text>
<text x="67.62" y="382.76">72</text>
<text x="90.85" y="382.76">96</text>
<text x="114.08" y="382.76">83</text>
<text x="137.32" y="382.76">88</text>
<text x="160.55" y="382.76">97</text>
<text x="183.78" y="382.76">116</text>
<text x="67.62" y="391.42">54</text>
<text x="90.85" y="391.42">47</text>
<text x="114.08" y="391.42">78</text>
<text x="137.32" y="391.42">97</text>
<text x="160.55" y="391.42">18</text>
<text x="183.78" y="391.42">28</text>
<text x="67.62" y="400.09">11</text>
<text x="90.85" y="400.09">19</text>
<text x="114.08" y="400.09">73</text>
<text x="137.32" y="400.09">68</text>
<text x="160.55" y="400.09">90</text>
<text x="183.78" y="400.09">58</text>
<text x="67.62" y="408.76">55</text>
<text x="90.85" y="408.76">75</text>
<text x="114.08" y="408.76">79</text>
<text x="137.32" y="408.76">65</text>
<text x="160.55" y="408.76">71</text>
<text x="183.78" y="408.76">68</text>
<text x="67.62" y="417.43">65</text>
<text x="90.85" y="417.43">74</text>
<text x="114.08" y="417.43">95</text>
<text x="137.32" y="417.43">95</text>
<text x="160.55" y="417.43">104</text>
<text x="183.78" y="417.43">22</text>
<text x="67.62" y="426.09">54</text>
<text x="90.85" y="426.09">87</text>
<text x="114.08" y="426.09">83</text>
<text x="137.32" y="426.09">103</text>
<text x="160.55" y="426.09">102</text>
<text x="183.78" y="426.09">93</text>
<text x="67.62" y="434.76">27</text>
<text x="90.85" y="434.76">99</text>
<text x="114.08" y="434.76">79</text>
<text x="137.32" y="434.76">65</text>
<text x="160.55" y="434.76">90</text>
<text x="183.78" y="434.76">50</text>
<text x="67.62" y="443.43">11</text>
<text x="90.85" y="443.43">4</text>
<text x="114.08" y="443.43">96</text>
<text x="137.32" y="443.43">110</text>
<text x="67.62" y="452.10">49</text>
<text x="90.85" y="452.10">112</text>
<text x="114.08" y="452.10">83</text>
<text x="137.32" y="452.10">117</text>
<text x="160.55" y="452.10">78</text>
<text x="183.78" y="452.10">81</text>
<text x="67.62" y="460.76">82</text>
<text x="90.85" y="460.76">79</text>
<text x="114.08" y="460.76">81</text>
<text x="137.32" y="460.76">88</text>
<text x="160.55" y="460.76">94</text>
<text x="183.78" y="460.76">49</text>
<text x="67.62" y="469.43">30</text>
<text x="90.85" y="469.43">44</text>
<text x="114.08" y="469.43">104</text>
<text x="137.32" y="469.43">83</text>
<text x="160.55" y="469.43">64</text>
<text x="183.78" y="469.43">36</text>
<text x="67.62" y="478.10">38</text>
<text x="90.85" y="478.10">25</text>
<text x="114.08" y="478.10">140</text>
<text x="137.32" y="478.10">121</text>
<text x="160.55" y="478.10">154</text>
<text x="183.78" y="478.10">167</text>
<text x="67.62" y="486.76">111</text>
<text x="90.85" y="486.76">72</text>
<text x="114.08" y="486.76">125</text>
<text x="137.32" y="486.76">116</text>
<text x="160.55" y="486.76">99</text>
<text x="183.78" y="486.76">75</text>
<text x="67.62" y="495.43">81</text>
<text x="90.85" y="495.43">84</text>
<text x="114.08" y="495.43">90</text>
<text x="137.32" y="495.43">98</text>
<text x="160.55" y="495.43">69</text>
<text x="183.78" y="495.43">89</text>
<text x="67.62" y="504.10">118</text>
<text x="90.85" y="504.10">117</text>
<text x="114.08" y="504.10">95</text>
<text x="137.32" y="504.10">96</text>
<text x="160.55" y="504.10">127</text>
<text x="183.78" y="504.10">123</text>
<text x="67.62" y="512.77">47</text>
<text x="90.85" y="512.77">83</text>
<text x="114.08" y="512.77">87</text>
<text x="137.32" y="512.77">98</text>
<text x="160.55" y="512.77">15</text>
<text x="183.78" y="512.77">97</text>
</g>
<g font-size="6.85" fill="#111" text-anchor="end">
<text x="52.6" y="44.33">134 (0)</text>
<text x="52.6" y="53.00">576 (0)</text>
<text x="52.6" y="61.67">616 (0)</text>
<text x="52.6" y="70.34">656 (0)</text>
<text x="52.6" y="79.00">748 (0)</text>
<text x="52.6" y="87.67">766 (0)</text>
<text x="52.6" y="96.34">820 (0)</text>
<text x="52.6" y="105.00">829 (0)</text>
<text x="52.6" y="113.67">839 (0)</text>
<text x="52.6" y="122.34">847 (0)</text>
<text x="52.6" y="131.01">854 (0)</text>
<text x="52.6" y="139.67">897 (0)</text>
<text x="52.6" y="148.34">919 (0)</text>
<text x="52.6" y="157.01">1003 (0)</text>
<text x="52.6" y="165.68">1010 (0)</text>
<text x="52.6" y="174.34">1023 (0)</text>
<text x="52.6" y="183.01">1064 (0)</text>
<text x="52.6" y="191.68">1093 (0)</text>
<text x="52.6" y="200.34">1115 (0)</text>
<text x="52.6" y="209.01">1128 (0)</text>
<text x="52.6" y="217.68">1229 (0)</text>
<text x="52.6" y="226.35">1230 (0)</text>
<text x="52.6" y="235.01">1238 (0)</text>
<text x="52.6" y="243.68">1298 (0)</text>
<text x="52.6" y="252.35">134 (1)</text>
<text x="52.6" y="261.02">576 (1)</text>
<text x="52.6" y="269.68">678 (1)</text>
<text x="52.6" y="278.35">700 (1)</text>
<text x="52.6" y="287.02">951 (1)</text>
<text x="52.6" y="295.68">1270 (1)</text>
<text x="52.6" y="304.35">420 (2)</text>
<text x="52.6" y="313.02">614 (2)</text>
<text x="52.6" y="321.69">649 (2)</text>
<text x="52.6" y="330.35">875 (2)</text>
<text x="52.6" y="339.02">994 (2)</text>
<text x="52.6" y="347.69">1196 (2)</text>
<text x="52.6" y="356.36">573 (2)</text>
<text x="52.6" y="365.02">700 (2)</text>
<text x="52.6" y="373.69">1044 (2)</text>
<text x="52.6" y="382.36">1322 (2)</text>
<text x="52.6" y="391.02">750 (3)</text>
<text x="52.6" y="399.69">816 (3)</text>
<text x="52.6" y="408.36">955 (3)</text>
<text x="52.6" y="417.03">1123 (3)</text>
<text x="52.6" y="425.69">1310 (3)</text>
<text x="52.6" y="434.36">614 (4)</text>
<text x="52.6" y="443.03">634 (4)</text>
<text x="52.6" y="451.70">646 (4)</text>
<text x="52.6" y="460.36">649 (4)</text>
<text x="52.6" y="469.03">1070 (4)</text>
<text x="52.6" y="477.70">634 (5)</text>
<text x="52.6" y="486.36">611 (5)</text>
<text x="52.6" y="495.03">646 (5)</text>
<text x="52.6" y="503.70">675 (5)</text>
<text x="52.6" y="512.37">634 (6)</text>
</g>
<rect x="56.00" y="37.50" width="139.40" height="476.70" fill="none" stroke="#555" stroke-width="0.6"/>
<line x1="56.0" x2="195.4" y1="245.51" y2="245.51" stroke="#111" stroke-width="1"/>
<line x1="56.0" x2="195.4" y1="349.52" y2="349.52" stroke="#111" stroke-width="1"/>
<line x1="21.3" x2="21.3" y1="37.6" y2="244.8" stroke="#111" stroke-width="1.1"/>
<line x1="21.3" x2="21.3" y1="247.0" y2="349.6" stroke="#111" stroke-width="1.1"/>
<line x1="21.3" x2="21.3" y1="352.4" y2="512.8" stroke="#111" stroke-width="1.1"/>
<text transform="translate(15.7,143.5) rotate(-90)" text-anchor="middle" font-size="10" fill="#111" textLength="81.2" lengthAdjust="spacingAndGlyphs">Newly Diagnosed</text>
<text transform="translate(15.7,297.5) rotate(-90)" text-anchor="middle" font-size="10" fill="#111" textLength="56.2" lengthAdjust="spacingAndGlyphs">First Relapse</text>
<text transform="translate(15.7,429.4) rotate(-90)" text-anchor="middle" font-size="10" fill="#111" textLength="57.8" lengthAdjust="spacingAndGlyphs">Multi-Relapsed</text>
<text transform="translate(37.8,29.2) rotate(-45)" text-anchor="middle" dominant-baseline="central" font-size="7" fill="#000" style="stroke-width:0.25px">Pt#</text>
<text transform="translate(52.3,29.4) rotate(-45)" text-anchor="middle" dominant-baseline="central" font-size="7" fill="#000" style="stroke-width:0.25px">LOT</text>
<text transform="translate(71.0,29.8) rotate(-45)" text-anchor="middle" dominant-baseline="central" font-size="7" fill="#000" style="stroke-width:0.25px">Bor</text>
<text transform="translate(94.5,29.6) rotate(-45)" text-anchor="middle" dominant-baseline="central" font-size="7" fill="#000" style="stroke-width:0.25px">Car</text>
<text transform="translate(117.1,29.6) rotate(-45)" text-anchor="middle" dominant-baseline="central" font-size="7" fill="#000" style="stroke-width:0.25px">Len</text>
<text transform="translate(140.7,28.5) rotate(-45)" text-anchor="middle" dominant-baseline="central" font-size="7" fill="#000" style="stroke-width:0.25px">Pom</text>
<text transform="translate(162.8,29.5) rotate(-45)" text-anchor="middle" dominant-baseline="central" font-size="7" fill="#000" style="stroke-width:0.25px">Dex</text>
<text transform="translate(184.9,29.7) rotate(-45)" text-anchor="middle" dominant-baseline="central" font-size="7" fill="#000" style="stroke-width:0.25px">Cy</text>
<defs><linearGradient id="cb" x1="0" x2="1" y1="0" y2="0">
<stop offset="0.0000" stop-color="#7eed3a"/>
<stop offset="0.1203" stop-color="#88ee39"/>
<stop offset="0.2406" stop-color="#93ef38"/>
<stop offset="0.3608" stop-color="#a3f038"/>
<stop offset="0.4811" stop-color="#baf137"/>
<stop offset="0.5412" stop-color="#c5f237"/>
<stop offset="0.6014" stop-color="#d0f237"/>
<stop offset="0.6615" stop-color="#dbf138"/>
<stop offset="0.6976" stop-color="#e1f138"/>
<stop offset="0.7217" stop-color="#e6f139"/>
<stop offset="0.7457" stop-color="#ebf03a"/>
<stop offset="0.7818" stop-color="#f2f03c"/>
<stop offset="0.8059" stop-color="#f4ef3d"/>
<stop offset="0.8419" stop-color="#f6ee3e"/>
<stop offset="0.8660" stop-color="#f5d83c"/>
<stop offset="0.8900" stop-color="#ecac34"/>
<stop offset="0.9141" stop-color="#e8872d"/>
<stop offset="0.9261" stop-color="#e77b2a"/>
<stop offset="0.9502" stop-color="#e46424"/>
<stop offset="0.9742" stop-color="#e24c1e"/>
<stop offset="0.9983" stop-color="#df3c19"/>
</linearGradient></defs>
<rect x="57.0" y="518.8" width="137.60" height="8.6" fill="url(#cb)" stroke="#333" stroke-width="0.8"/>
<line x1="90.10" x2="90.10" y1="519" y2="527.3" stroke="#111" stroke-width="1" stroke-dasharray="2,1.2"/>
<line x1="123.20" x2="123.20" y1="519" y2="527.3" stroke="#111" stroke-width="1" stroke-dasharray="2,1.2"/>
<line x1="156.30" x2="156.30" y1="519" y2="527.3" stroke="#111" stroke-width="1" stroke-dasharray="2,1.2"/>
<line x1="189.40" x2="189.40" y1="519" y2="527.3" stroke="#111" stroke-width="1" stroke-dasharray="2,1.2"/>
<g font-size="8" fill="#000" text-anchor="middle" letter-spacing="0.3">
<text x="57.15" y="538.4">0</text>
<text x="90.25" y="538.4">20</text>
<text x="123.35" y="538.4">40</text>
<text x="156.45" y="538.4">60</text>
<text x="189.55" y="538.4">80</text>
</g>
<text x="84.8" y="551.7" font-size="9" fill="#000" style="stroke-width:0.3px" textLength="81.2" lengthAdjust="spacingAndGlyphs">Viable MM cells (norm %)</text>
</g>
<g>
<path d="M255.00 77.02C257.67 76.13 265.67 73.05 271.00 71.67C276.33 70.29 281.67 68.52 287.00 68.73C292.33 68.93 297.67 72.68 303.00 72.90C308.33 73.12 313.67 72.20 319.00 70.06C324.33 67.93 329.67 63.86 335.00 60.11C340.33 56.37 348.33 49.68 351.00 47.59L351.00 73.81C348.33 73.47 340.33 70.53 335.00 71.78C329.67 73.03 324.33 79.53 319.00 81.30C313.67 83.07 308.33 82.91 303.00 82.37C297.67 81.84 292.33 77.91 287.00 78.09C281.67 78.27 276.33 82.19 271.00 83.44C265.67 84.69 257.67 85.22 255.00 85.58Z" fill="#dfe4ee"/>
<line x1="247.25" x2="355.00" y1="60.15" y2="60.15" stroke="#8c8c8c" stroke-width="1.1" stroke-dasharray="1.3,1.2"/>
<g fill="#a8001e">
<circle cx="255.00" cy="102.70" r="1.1"/>
<circle cx="255.00" cy="100.96" r="1.1"/>
<circle cx="255.00" cy="99.22" r="1.1"/>
<circle cx="255.00" cy="97.48" r="1.1"/>
<circle cx="255.00" cy="95.75" r="1.1"/>
<circle cx="255.00" cy="94.01" r="1.1"/>
<circle cx="255.00" cy="92.27" r="1.1"/>
<circle cx="255.00" cy="90.53" r="1.1"/>
<circle cx="255.00" cy="88.79" r="1.1"/>
<circle cx="255.00" cy="85.05" r="1.1"/>
<circle cx="255.00" cy="83.35" r="1.1"/>
<circle cx="255.00" cy="81.66" r="1.1"/>
<circle cx="255.00" cy="79.96" r="1.1"/>
<circle cx="255.00" cy="78.27" r="1.1"/>
<circle cx="255.00" cy="76.57" r="1.1"/>
<circle cx="255.00" cy="74.88" r="1.1"/>
<circle cx="255.00" cy="73.19" r="1.1"/>
<circle cx="255.00" cy="71.49" r="1.1"/>
<circle cx="255.00" cy="69.80" r="1.1"/>
<circle cx="255.00" cy="68.10" r="1.1"/>
<circle cx="255.00" cy="66.41" r="1.1"/>
<circle cx="255.00" cy="64.72" r="1.1"/>
<circle cx="255.00" cy="62.04" r="1.1"/>
<circle cx="255.00" cy="60.36" r="1.1"/>
<circle cx="255.00" cy="58.68" r="1.1"/>
<circle cx="255.00" cy="57.00" r="1.1"/>
<circle cx="255.00" cy="55.31" r="1.1"/>
<circle cx="255.00" cy="53.63" r="1.1"/>
<circle cx="255.00" cy="51.95" r="1.1"/>
<circle cx="255.00" cy="50.27" r="1.1"/>
<circle cx="271.00" cy="50.80" r="1.1"/>
<circle cx="271.00" cy="52.95" r="1.1"/>
<circle cx="271.00" cy="65.25" r="1.1"/>
<circle cx="271.00" cy="67.93" r="1.1"/>
<circle cx="271.00" cy="70.60" r="1.1"/>
<circle cx="271.00" cy="75.95" r="1.1"/>
<circle cx="271.00" cy="78.62" r="1.1"/>
<circle cx="271.00" cy="81.30" r="1.1"/>
<circle cx="271.00" cy="94.67" r="1.1"/>
<circle cx="271.00" cy="96.81" r="1.1"/>
<circle cx="271.00" cy="99.22" r="1.1"/>
<circle cx="287.00" cy="49.20" r="1.1"/>
<circle cx="287.00" cy="47.42" r="1.1"/>
<circle cx="287.00" cy="45.63" r="1.1"/>
<circle cx="287.00" cy="43.85" r="1.1"/>
<circle cx="287.00" cy="69.21" r="1.1"/>
<circle cx="287.00" cy="67.52" r="1.1"/>
<circle cx="287.00" cy="65.83" r="1.1"/>
<circle cx="287.00" cy="64.14" r="1.1"/>
<circle cx="287.00" cy="62.46" r="1.1"/>
<circle cx="287.00" cy="60.77" r="1.1"/>
<circle cx="287.00" cy="59.08" r="1.1"/>
<circle cx="287.00" cy="57.39" r="1.1"/>
<circle cx="287.00" cy="55.70" r="1.1"/>
<circle cx="287.00" cy="54.02" r="1.1"/>
<circle cx="287.00" cy="99.22" r="1.1"/>
<circle cx="287.00" cy="97.53" r="1.1"/>
<circle cx="287.00" cy="95.83" r="1.1"/>
<circle cx="287.00" cy="94.14" r="1.1"/>
<circle cx="287.00" cy="92.45" r="1.1"/>
<circle cx="287.00" cy="90.75" r="1.1"/>
<circle cx="287.00" cy="89.06" r="1.1"/>
<circle cx="287.00" cy="87.36" r="1.1"/>
<circle cx="287.00" cy="85.67" r="1.1"/>
<circle cx="287.00" cy="83.97" r="1.1"/>
<circle cx="287.00" cy="82.28" r="1.1"/>
<circle cx="287.00" cy="80.59" r="1.1"/>
<circle cx="287.00" cy="78.89" r="1.1"/>
<circle cx="287.00" cy="77.20" r="1.1"/>
<circle cx="287.00" cy="75.50" r="1.1"/>
<circle cx="287.00" cy="73.81" r="1.1"/>
<circle cx="303.00" cy="76.16" r="1.1"/>
<circle cx="303.00" cy="74.34" r="1.1"/>
<circle cx="303.00" cy="72.53" r="1.1"/>
<circle cx="303.00" cy="70.71" r="1.1"/>
<circle cx="303.00" cy="68.89" r="1.1"/>
<circle cx="303.00" cy="67.07" r="1.1"/>
<circle cx="303.00" cy="65.25" r="1.1"/>
<circle cx="303.00" cy="98.42" r="1.1"/>
<circle cx="303.00" cy="96.90" r="1.1"/>
<circle cx="303.00" cy="95.37" r="1.1"/>
<circle cx="319.00" cy="50.80" r="1.1"/>
<circle cx="319.00" cy="60.01" r="1.1"/>
<circle cx="319.00" cy="65.36" r="1.1"/>
<circle cx="319.00" cy="93.82" r="1.1"/>
<circle cx="319.00" cy="92.07" r="1.1"/>
<circle cx="319.00" cy="90.33" r="1.1"/>
<circle cx="319.00" cy="88.58" r="1.1"/>
<circle cx="319.00" cy="86.83" r="1.1"/>
<circle cx="319.00" cy="85.09" r="1.1"/>
<circle cx="319.00" cy="83.34" r="1.1"/>
<circle cx="319.00" cy="81.60" r="1.1"/>
<circle cx="319.00" cy="79.85" r="1.1"/>
<circle cx="319.00" cy="78.10" r="1.1"/>
<circle cx="319.00" cy="76.36" r="1.1"/>
<circle cx="319.00" cy="74.61" r="1.1"/>
<circle cx="319.00" cy="102.33" r="1.1"/>
<circle cx="335.00" cy="33.15" r="1.1"/>
<circle cx="335.00" cy="35.02" r="1.1"/>
<circle cx="335.00" cy="36.89" r="1.1"/>
<circle cx="335.00" cy="43.85" r="1.1"/>
<circle cx="335.00" cy="46.52" r="1.1"/>
<circle cx="335.00" cy="49.20" r="1.1"/>
<circle cx="335.00" cy="63.86" r="1.1"/>
<circle cx="335.00" cy="66.16" r="1.1"/>
<circle cx="335.00" cy="77.72" r="1.1"/>
<circle cx="335.00" cy="82.37" r="1.1"/>
<circle cx="335.00" cy="86.92" r="1.1"/>
<circle cx="351.00" cy="73.11" r="1.1"/>
<circle cx="351.00" cy="74.88" r="1.1"/>
<circle cx="351.00" cy="77.98" r="1.1"/>
<circle cx="351.00" cy="79.75" r="1.1"/>
</g>
<line x1="255.00" y1="82.37" x2="351.00" y2="59.63" stroke="#b8173a" stroke-width="1.2"/>
<path d="M255.00 81.30C257.67 80.72 265.67 79.16 271.00 77.82C276.33 76.49 283.00 73.77 287.00 73.28C291.00 72.78 292.33 74.17 295.00 74.88C297.67 75.59 299.00 77.79 303.00 77.56C307.00 77.32 313.67 75.18 319.00 73.49C324.33 71.79 329.67 69.61 335.00 67.39C340.33 65.17 348.33 61.37 351.00 60.17" fill="none" stroke="#3d5a94" stroke-width="1.25"/>
<path d="M247.25 24.20V102.70H354.50" fill="none" stroke="#111" stroke-width="1"/>
<g font-size="8.3" fill="#000" text-anchor="end">
<line x1="244.45" x2="247.25" y1="102.70" y2="102.70" stroke="#111" stroke-width="0.9"/>
<text x="240.65" y="105.50">0</text>
<line x1="244.45" x2="247.25" y1="92.00" y2="92.00" stroke="#111" stroke-width="0.9"/>
<text x="240.65" y="94.80">20</text>
<line x1="244.45" x2="247.25" y1="81.30" y2="81.30" stroke="#111" stroke-width="0.9"/>
<text x="240.65" y="84.10">40</text>
<line x1="244.45" x2="247.25" y1="70.60" y2="70.60" stroke="#111" stroke-width="0.9"/>
<text x="240.65" y="73.40">60</text>
<line x1="244.45" x2="247.25" y1="59.90" y2="59.90" stroke="#111" stroke-width="0.9"/>
<text x="240.65" y="62.70">80</text>
<line x1="244.45" x2="247.25" y1="49.20" y2="49.20" stroke="#111" stroke-width="0.9"/>
<text x="240.65" y="52.00">100</text>
<line x1="244.45" x2="247.25" y1="38.50" y2="38.50" stroke="#111" stroke-width="0.9"/>
<text x="240.65" y="41.30">120</text>
<line x1="244.45" x2="247.25" y1="27.80" y2="27.80" stroke="#111" stroke-width="0.9"/>
<text x="240.65" y="30.60">140</text>
</g>
<g font-size="8.3" fill="#000" text-anchor="middle">
<line x1="255.00" x2="255.00" y1="102.70" y2="105.70" stroke="#111" stroke-width="0.9"/>
<text x="255.00" y="116.50">0</text>
<line x1="271.00" x2="271.00" y1="102.70" y2="105.70" stroke="#111" stroke-width="0.9"/>
<text x="271.00" y="116.50">1</text>
<line x1="287.00" x2="287.00" y1="102.70" y2="105.70" stroke="#111" stroke-width="0.9"/>
<text x="287.00" y="116.50">2</text>
<line x1="303.00" x2="303.00" y1="102.70" y2="105.70" stroke="#111" stroke-width="0.9"/>
<text x="303.00" y="116.50">3</text>
<line x1="319.00" x2="319.00" y1="102.70" y2="105.70" stroke="#111" stroke-width="0.9"/>
<text x="319.00" y="116.50">4</text>
<line x1="335.00" x2="335.00" y1="102.70" y2="105.70" stroke="#111" stroke-width="0.9"/>
<text x="335.00" y="116.50">5</text>
<line x1="351.00" x2="351.00" y1="102.70" y2="105.70" stroke="#111" stroke-width="0.9"/>
<text x="351.00" y="116.50">6</text>
</g>
<text x="213.3" y="14.7" font-size="11.6" font-weight="bold" fill="#000" class="nb">B</text>
<text x="276.3" y="15.5" font-size="9.9" fill="#000" style="stroke-width:0.16px" textLength="48.5" lengthAdjust="spacingAndGlyphs">Bortezomib</text>
<text x="287.0" y="33.4" font-size="7.3" fill="#111" style="stroke-width:0.1px" textLength="26.6" lengthAdjust="spacingAndGlyphs">p &lt;.001</text>
<text transform="translate(220.05,63.20) rotate(-90)" text-anchor="middle" font-size="9" fill="#000" style="stroke-width:0.32px" textLength="81.4" lengthAdjust="spacingAndGlyphs">Viable MM cells (norm %)</text>
<text x="268.70" y="129.4" font-size="9" fill="#000" style="stroke-width:0.3px" textLength="64.2" lengthAdjust="spacingAndGlyphs">Prior lines of therapy</text>
</g>
<g>
<path d="M413.50 71.23C416.17 70.52 424.17 67.49 429.50 66.95C434.83 66.42 440.17 68.20 445.50 68.03C450.83 67.85 456.17 66.69 461.50 65.88C466.83 65.08 472.17 64.99 477.50 63.21C482.83 61.43 488.17 58.13 493.50 55.18C498.83 52.24 506.83 47.16 509.50 45.55L509.50 73.38C506.83 72.75 498.83 69.63 493.50 69.63C488.17 69.63 482.83 72.39 477.50 73.38C472.17 74.36 466.83 74.80 461.50 75.52C456.17 76.23 450.83 76.94 445.50 77.66C440.17 78.37 434.83 79.26 429.50 79.79C424.17 80.33 416.17 80.69 413.50 80.86Z" fill="#dfe4ee"/>
<line x1="405.70" x2="513.50" y1="60.25" y2="60.25" stroke="#8c8c8c" stroke-width="1.1" stroke-dasharray="1.3,1.2"/>
<g fill="#a8001e">
<circle cx="413.50" cy="102.48" r="1.1"/>
<circle cx="413.50" cy="100.70" r="1.1"/>
<circle cx="413.50" cy="98.93" r="1.1"/>
<circle cx="413.50" cy="97.16" r="1.1"/>
<circle cx="413.50" cy="95.38" r="1.1"/>
<circle cx="413.50" cy="93.61" r="1.1"/>
<circle cx="413.50" cy="91.83" r="1.1"/>
<circle cx="413.50" cy="90.06" r="1.1"/>
<circle cx="413.50" cy="88.29" r="1.1"/>
<circle cx="413.50" cy="86.51" r="1.1"/>
<circle cx="413.50" cy="84.74" r="1.1"/>
<circle cx="413.50" cy="82.96" r="1.1"/>
<circle cx="413.50" cy="81.19" r="1.1"/>
<circle cx="413.50" cy="79.42" r="1.1"/>
<circle cx="413.50" cy="77.64" r="1.1"/>
<circle cx="413.50" cy="75.87" r="1.1"/>
<circle cx="413.50" cy="74.09" r="1.1"/>
<circle cx="413.50" cy="72.32" r="1.1"/>
<circle cx="413.50" cy="70.54" r="1.1"/>
<circle cx="413.50" cy="68.77" r="1.1"/>
<circle cx="413.50" cy="67.00" r="1.1"/>
<circle cx="413.50" cy="65.22" r="1.1"/>
<circle cx="413.50" cy="63.45" r="1.1"/>
<circle cx="413.50" cy="61.67" r="1.1"/>
<circle cx="413.50" cy="59.90" r="1.1"/>
<circle cx="413.50" cy="58.13" r="1.1"/>
<circle cx="413.50" cy="56.35" r="1.1"/>
<circle cx="413.50" cy="54.58" r="1.1"/>
<circle cx="413.50" cy="52.80" r="1.1"/>
<circle cx="413.50" cy="51.03" r="1.1"/>
<circle cx="413.50" cy="49.26" r="1.1"/>
<circle cx="413.50" cy="47.48" r="1.1"/>
<circle cx="429.50" cy="49.19" r="1.1"/>
<circle cx="429.50" cy="51.28" r="1.1"/>
<circle cx="429.50" cy="57.65" r="1.1"/>
<circle cx="429.50" cy="60.16" r="1.1"/>
<circle cx="429.50" cy="62.30" r="1.1"/>
<circle cx="429.50" cy="64.81" r="1.1"/>
<circle cx="429.50" cy="67.60" r="1.1"/>
<circle cx="429.50" cy="70.75" r="1.1"/>
<circle cx="429.50" cy="73.96" r="1.1"/>
<circle cx="429.50" cy="76.69" r="1.1"/>
<circle cx="429.50" cy="79.26" r="1.1"/>
<circle cx="429.50" cy="82.42" r="1.1"/>
<circle cx="429.50" cy="102.48" r="1.1"/>
<circle cx="445.50" cy="53.85" r="1.1"/>
<circle cx="445.50" cy="51.99" r="1.1"/>
<circle cx="445.50" cy="50.13" r="1.1"/>
<circle cx="445.50" cy="48.27" r="1.1"/>
<circle cx="445.50" cy="46.41" r="1.1"/>
<circle cx="445.50" cy="68.67" r="1.1"/>
<circle cx="445.50" cy="67.00" r="1.1"/>
<circle cx="445.50" cy="65.33" r="1.1"/>
<circle cx="445.50" cy="63.67" r="1.1"/>
<circle cx="445.50" cy="62.00" r="1.1"/>
<circle cx="445.50" cy="60.34" r="1.1"/>
<circle cx="445.50" cy="58.67" r="1.1"/>
<circle cx="445.50" cy="57.00" r="1.1"/>
<circle cx="445.50" cy="71.82" r="1.1"/>
<circle cx="445.50" cy="77.12" r="1.1"/>
<circle cx="445.50" cy="81.35" r="1.1"/>
<circle cx="445.50" cy="86.64" r="1.1"/>
<circle cx="445.50" cy="99.32" r="1.1"/>
<circle cx="445.50" cy="97.63" r="1.1"/>
<circle cx="445.50" cy="95.94" r="1.1"/>
<circle cx="445.50" cy="94.25" r="1.1"/>
<circle cx="445.50" cy="92.56" r="1.1"/>
<circle cx="445.50" cy="90.87" r="1.1"/>
<circle cx="461.50" cy="61.23" r="1.1"/>
<circle cx="461.50" cy="59.38" r="1.1"/>
<circle cx="461.50" cy="57.54" r="1.1"/>
<circle cx="461.50" cy="55.69" r="1.1"/>
<circle cx="461.50" cy="53.85" r="1.1"/>
<circle cx="461.50" cy="68.24" r="1.1"/>
<circle cx="461.50" cy="76.05" r="1.1"/>
<circle cx="461.50" cy="81.40" r="1.1"/>
<circle cx="461.50" cy="90.87" r="1.1"/>
<circle cx="461.50" cy="95.10" r="1.1"/>
<circle cx="477.50" cy="38.06" r="1.1"/>
<circle cx="477.50" cy="40.74" r="1.1"/>
<circle cx="477.50" cy="42.88" r="1.1"/>
<circle cx="477.50" cy="49.62" r="1.1"/>
<circle cx="477.50" cy="51.71" r="1.1"/>
<circle cx="477.50" cy="55.93" r="1.1"/>
<circle cx="477.50" cy="68.67" r="1.1"/>
<circle cx="477.50" cy="73.91" r="1.1"/>
<circle cx="477.50" cy="77.12" r="1.1"/>
<circle cx="477.50" cy="80.28" r="1.1"/>
<circle cx="477.50" cy="99.32" r="1.1"/>
<circle cx="477.50" cy="101.46" r="1.1"/>
<circle cx="493.50" cy="35.92" r="1.1"/>
<circle cx="493.50" cy="43.68" r="1.1"/>
<circle cx="493.50" cy="50.64" r="1.1"/>
<circle cx="493.50" cy="55.51" r="1.1"/>
<circle cx="493.50" cy="60.16" r="1.1"/>
<circle cx="493.50" cy="62.30" r="1.1"/>
<circle cx="493.50" cy="72.89" r="1.1"/>
<circle cx="493.50" cy="87.71" r="1.1"/>
<circle cx="493.50" cy="89.42" r="1.1"/>
<circle cx="493.50" cy="90.87" r="1.1"/>
<circle cx="509.50" cy="48.55" r="1.1"/>
<circle cx="509.50" cy="55.51" r="1.1"/>
<circle cx="509.50" cy="70.33" r="1.1"/>
</g>
<line x1="413.50" y1="84.07" x2="509.50" y2="36.99" stroke="#b8173a" stroke-width="1.2"/>
<path d="M413.50 77.12C416.17 76.41 424.17 73.55 429.50 72.84C434.83 72.13 440.17 73.20 445.50 72.84C450.83 72.48 456.17 71.50 461.50 70.70C466.83 69.90 472.17 69.18 477.50 68.03C482.83 66.87 488.17 65.14 493.50 63.74C498.83 62.35 506.83 60.31 509.50 59.63" fill="none" stroke="#3d5a94" stroke-width="1.25"/>
<path d="M405.70 24.20V102.80H513.00" fill="none" stroke="#111" stroke-width="1"/>
<g font-size="8.3" fill="#000" text-anchor="end">
<line x1="402.90" x2="405.70" y1="102.80" y2="102.80" stroke="#111" stroke-width="0.9"/>
<text x="399.10" y="105.60">0</text>
<line x1="402.90" x2="405.70" y1="92.10" y2="92.10" stroke="#111" stroke-width="0.9"/>
<text x="399.10" y="94.90">20</text>
<line x1="402.90" x2="405.70" y1="81.40" y2="81.40" stroke="#111" stroke-width="0.9"/>
<text x="399.10" y="84.20">40</text>
<line x1="402.90" x2="405.70" y1="70.70" y2="70.70" stroke="#111" stroke-width="0.9"/>
<text x="399.10" y="73.50">60</text>
<line x1="402.90" x2="405.70" y1="60.00" y2="60.00" stroke="#111" stroke-width="0.9"/>
<text x="399.10" y="62.80">80</text>
<line x1="402.90" x2="405.70" y1="49.30" y2="49.30" stroke="#111" stroke-width="0.9"/>
<text x="399.10" y="52.10">100</text>
<line x1="402.90" x2="405.70" y1="38.60" y2="38.60" stroke="#111" stroke-width="0.9"/>
<text x="399.10" y="41.40">120</text>
<line x1="402.90" x2="405.70" y1="27.90" y2="27.90" stroke="#111" stroke-width="0.9"/>
<text x="399.10" y="30.70">140</text>
</g>
<g font-size="8.3" fill="#000" text-anchor="middle">
<line x1="413.50" x2="413.50" y1="102.80" y2="105.80" stroke="#111" stroke-width="0.9"/>
<text x="413.50" y="116.60">0</text>
<line x1="429.50" x2="429.50" y1="102.80" y2="105.80" stroke="#111" stroke-width="0.9"/>
<text x="429.50" y="116.60">1</text>
<line x1="445.50" x2="445.50" y1="102.80" y2="105.80" stroke="#111" stroke-width="0.9"/>
<text x="445.50" y="116.60">2</text>
<line x1="461.50" x2="461.50" y1="102.80" y2="105.80" stroke="#111" stroke-width="0.9"/>
<text x="461.50" y="116.60">3</text>
<line x1="477.50" x2="477.50" y1="102.80" y2="105.80" stroke="#111" stroke-width="0.9"/>
<text x="477.50" y="116.60">4</text>
<line x1="493.50" x2="493.50" y1="102.80" y2="105.80" stroke="#111" stroke-width="0.9"/>
<text x="493.50" y="116.60">5</text>
<line x1="509.50" x2="509.50" y1="102.80" y2="105.80" stroke="#111" stroke-width="0.9"/>
<text x="509.50" y="116.60">6</text>
</g>
<text x="371.5" y="14.8" font-size="11.6" font-weight="bold" fill="#000" class="nb">C</text>
<text x="435.4" y="15.5" font-size="9.9" fill="#000" style="stroke-width:0.16px" textLength="47.7" lengthAdjust="spacingAndGlyphs">Carfilzomib</text>
<text x="445.8" y="33.5" font-size="7.3" fill="#111" style="stroke-width:0.1px" textLength="25.7" lengthAdjust="spacingAndGlyphs">p &lt;.001</text>
<text transform="translate(378.50,63.20) rotate(-90)" text-anchor="middle" font-size="9" fill="#000" style="stroke-width:0.32px" textLength="81.4" lengthAdjust="spacingAndGlyphs">Viable MM cells (norm %)</text>
<text x="426.60" y="129.4" font-size="9" fill="#000" style="stroke-width:0.3px" textLength="64.2" lengthAdjust="spacingAndGlyphs">Prior lines of therapy</text>
</g>
<g>
<path d="M255.20 209.68C256.53 210.01 260.53 211.58 263.20 211.66C265.87 211.74 268.53 211.00 271.20 210.18C273.87 209.35 276.53 207.78 279.20 206.71C281.87 205.64 283.20 204.40 287.20 203.74C291.20 203.08 297.87 203.66 303.20 202.75C308.53 201.84 313.87 199.95 319.20 198.30C324.53 196.65 329.87 195.00 335.20 192.85C340.53 190.71 348.53 186.66 351.20 185.43L351.20 204.48C348.53 204.28 340.53 203.12 335.20 203.25C329.87 203.37 324.53 204.24 319.20 205.23C313.87 206.22 308.53 208.24 303.20 209.19C297.87 210.13 291.20 210.01 287.20 210.92C283.20 211.83 281.87 213.19 279.20 214.63C276.53 216.07 273.87 218.84 271.20 219.58C268.53 220.32 265.87 219.66 263.20 219.09C260.53 218.51 256.53 216.61 255.20 216.12Z" fill="#dfe4ee"/>
<line x1="247.30" x2="355.20" y1="207.95" y2="207.95" stroke="#8c8c8c" stroke-width="1.1" stroke-dasharray="1.3,1.2"/>
<g fill="#a8001e">
<circle cx="255.20" cy="242.50" r="1.1"/>
<circle cx="255.20" cy="240.72" r="1.1"/>
<circle cx="255.20" cy="238.95" r="1.1"/>
<circle cx="255.20" cy="237.17" r="1.1"/>
<circle cx="255.20" cy="235.39" r="1.1"/>
<circle cx="255.20" cy="233.62" r="1.1"/>
<circle cx="255.20" cy="231.84" r="1.1"/>
<circle cx="255.20" cy="230.06" r="1.1"/>
<circle cx="255.20" cy="228.28" r="1.1"/>
<circle cx="255.20" cy="226.51" r="1.1"/>
<circle cx="255.20" cy="224.73" r="1.1"/>
<circle cx="255.20" cy="222.95" r="1.1"/>
<circle cx="255.20" cy="221.18" r="1.1"/>
<circle cx="255.20" cy="219.40" r="1.1"/>
<circle cx="255.20" cy="217.62" r="1.1"/>
<circle cx="255.20" cy="215.85" r="1.1"/>
<circle cx="255.20" cy="214.07" r="1.1"/>
<circle cx="255.20" cy="212.29" r="1.1"/>
<circle cx="255.20" cy="210.52" r="1.1"/>
<circle cx="255.20" cy="208.74" r="1.1"/>
<circle cx="255.20" cy="206.96" r="1.1"/>
<circle cx="255.20" cy="205.19" r="1.1"/>
<circle cx="255.20" cy="203.41" r="1.1"/>
<circle cx="255.20" cy="201.63" r="1.1"/>
<circle cx="255.20" cy="199.86" r="1.1"/>
<circle cx="255.20" cy="198.08" r="1.1"/>
<circle cx="255.20" cy="196.30" r="1.1"/>
<circle cx="255.20" cy="194.53" r="1.1"/>
<circle cx="255.20" cy="192.75" r="1.1"/>
<circle cx="271.20" cy="187.06" r="1.1"/>
<circle cx="271.20" cy="200.62" r="1.1"/>
<circle cx="271.20" cy="210.77" r="1.1"/>
<circle cx="271.20" cy="212.35" r="1.1"/>
<circle cx="271.20" cy="213.94" r="1.1"/>
<circle cx="271.20" cy="220.27" r="1.1"/>
<circle cx="271.20" cy="225.57" r="1.1"/>
<circle cx="271.20" cy="230.87" r="1.1"/>
<circle cx="271.20" cy="239.33" r="1.1"/>
<circle cx="287.20" cy="169.49" r="1.1"/>
<circle cx="287.20" cy="187.06" r="1.1"/>
<circle cx="287.20" cy="188.89" r="1.1"/>
<circle cx="287.20" cy="190.67" r="1.1"/>
<circle cx="287.20" cy="223.44" r="1.1"/>
<circle cx="287.20" cy="221.68" r="1.1"/>
<circle cx="287.20" cy="219.92" r="1.1"/>
<circle cx="287.20" cy="218.15" r="1.1"/>
<circle cx="287.20" cy="216.39" r="1.1"/>
<circle cx="287.20" cy="214.63" r="1.1"/>
<circle cx="287.20" cy="212.87" r="1.1"/>
<circle cx="287.20" cy="211.11" r="1.1"/>
<circle cx="287.20" cy="209.34" r="1.1"/>
<circle cx="287.20" cy="207.58" r="1.1"/>
<circle cx="287.20" cy="205.82" r="1.1"/>
<circle cx="287.20" cy="204.06" r="1.1"/>
<circle cx="287.20" cy="202.29" r="1.1"/>
<circle cx="287.20" cy="200.53" r="1.1"/>
<circle cx="287.20" cy="198.77" r="1.1"/>
<circle cx="287.20" cy="197.01" r="1.1"/>
<circle cx="287.20" cy="227.70" r="1.1"/>
<circle cx="287.20" cy="233.59" r="1.1"/>
<circle cx="303.20" cy="216.02" r="1.1"/>
<circle cx="303.20" cy="214.21" r="1.1"/>
<circle cx="303.20" cy="212.40" r="1.1"/>
<circle cx="303.20" cy="210.59" r="1.1"/>
<circle cx="303.20" cy="208.77" r="1.1"/>
<circle cx="303.20" cy="206.96" r="1.1"/>
<circle cx="303.20" cy="205.15" r="1.1"/>
<circle cx="303.20" cy="203.34" r="1.1"/>
<circle cx="303.20" cy="201.53" r="1.1"/>
<circle cx="303.20" cy="199.72" r="1.1"/>
<circle cx="303.20" cy="197.91" r="1.1"/>
<circle cx="303.20" cy="196.10" r="1.1"/>
<circle cx="303.20" cy="194.29" r="1.1"/>
<circle cx="303.20" cy="192.48" r="1.1"/>
<circle cx="303.20" cy="190.67" r="1.1"/>
<circle cx="319.20" cy="212.45" r="1.1"/>
<circle cx="319.20" cy="210.69" r="1.1"/>
<circle cx="319.20" cy="208.94" r="1.1"/>
<circle cx="319.20" cy="207.18" r="1.1"/>
<circle cx="319.20" cy="205.42" r="1.1"/>
<circle cx="319.20" cy="203.67" r="1.1"/>
<circle cx="319.20" cy="201.91" r="1.1"/>
<circle cx="319.20" cy="200.15" r="1.1"/>
<circle cx="319.20" cy="198.39" r="1.1"/>
<circle cx="319.20" cy="196.64" r="1.1"/>
<circle cx="319.20" cy="194.88" r="1.1"/>
<circle cx="319.20" cy="193.12" r="1.1"/>
<circle cx="319.20" cy="191.37" r="1.1"/>
<circle cx="335.20" cy="170.97" r="1.1"/>
<circle cx="335.20" cy="184.34" r="1.1"/>
<circle cx="335.20" cy="182.48" r="1.1"/>
<circle cx="335.20" cy="180.62" r="1.1"/>
<circle cx="335.20" cy="178.77" r="1.1"/>
<circle cx="335.20" cy="176.91" r="1.1"/>
<circle cx="335.20" cy="206.51" r="1.1"/>
<circle cx="335.20" cy="204.75" r="1.1"/>
<circle cx="335.20" cy="203.00" r="1.1"/>
<circle cx="335.20" cy="201.24" r="1.1"/>
<circle cx="335.20" cy="199.48" r="1.1"/>
<circle cx="335.20" cy="197.73" r="1.1"/>
<circle cx="335.20" cy="195.97" r="1.1"/>
<circle cx="351.20" cy="192.16" r="1.1"/>
<circle cx="351.20" cy="209.09" r="1.1"/>
<circle cx="351.20" cy="211.17" r="1.1"/>
</g>
<line x1="255.20" y1="212.90" x2="351.20" y2="197.21" stroke="#b8173a" stroke-width="1.2"/>
<path d="M255.20 212.80C256.53 213.17 260.53 214.72 263.20 215.03C265.87 215.33 268.53 215.40 271.20 214.63C273.87 213.86 276.53 211.61 279.20 210.42C281.87 209.23 284.53 208.19 287.20 207.50C289.87 206.82 292.53 206.69 295.20 206.31C297.87 205.93 299.20 206.07 303.20 205.23C307.20 204.38 313.87 202.50 319.20 201.27C324.53 200.03 329.87 198.91 335.20 197.80C340.53 196.69 348.53 195.12 351.20 194.58" fill="none" stroke="#3d5a94" stroke-width="1.25"/>
<path d="M247.30 164.80V247.30H354.70" fill="none" stroke="#111" stroke-width="1"/>
<g font-size="8.3" fill="#000" text-anchor="end">
<line x1="244.50" x2="247.30" y1="247.30" y2="247.30" stroke="#111" stroke-width="0.9"/>
<text x="240.70" y="250.10">0</text>
<line x1="244.50" x2="247.30" y1="237.40" y2="237.40" stroke="#111" stroke-width="0.9"/>
<text x="240.70" y="240.20">20</text>
<line x1="244.50" x2="247.30" y1="227.50" y2="227.50" stroke="#111" stroke-width="0.9"/>
<text x="240.70" y="230.30">40</text>
<line x1="244.50" x2="247.30" y1="217.60" y2="217.60" stroke="#111" stroke-width="0.9"/>
<text x="240.70" y="220.40">60</text>
<line x1="244.50" x2="247.30" y1="207.70" y2="207.70" stroke="#111" stroke-width="0.9"/>
<text x="240.70" y="210.50">80</text>
<line x1="244.50" x2="247.30" y1="197.80" y2="197.80" stroke="#111" stroke-width="0.9"/>
<text x="240.70" y="200.60">100</text>
<line x1="244.50" x2="247.30" y1="187.90" y2="187.90" stroke="#111" stroke-width="0.9"/>
<text x="240.70" y="190.70">120</text>
<line x1="244.50" x2="247.30" y1="178.00" y2="178.00" stroke="#111" stroke-width="0.9"/>
<text x="240.70" y="180.80">140</text>
<line x1="244.50" x2="247.30" y1="168.10" y2="168.10" stroke="#111" stroke-width="0.9"/>
<text x="240.70" y="170.90">160</text>
</g>
<g font-size="8.3" fill="#000" text-anchor="middle">
<line x1="255.20" x2="255.20" y1="247.30" y2="250.30" stroke="#111" stroke-width="0.9"/>
<text x="255.20" y="261.10">0</text>
<line x1="271.20" x2="271.20" y1="247.30" y2="250.30" stroke="#111" stroke-width="0.9"/>
<text x="271.20" y="261.10">1</text>
<line x1="287.20" x2="287.20" y1="247.30" y2="250.30" stroke="#111" stroke-width="0.9"/>
<text x="287.20" y="261.10">2</text>
<line x1="303.20" x2="303.20" y1="247.30" y2="250.30" stroke="#111" stroke-width="0.9"/>
<text x="303.20" y="261.10">3</text>
<line x1="319.20" x2="319.20" y1="247.30" y2="250.30" stroke="#111" stroke-width="0.9"/>
<text x="319.20" y="261.10">4</text>
<line x1="335.20" x2="335.20" y1="247.30" y2="250.30" stroke="#111" stroke-width="0.9"/>
<text x="335.20" y="261.10">5</text>
<line x1="351.20" x2="351.20" y1="247.30" y2="250.30" stroke="#111" stroke-width="0.9"/>
<text x="351.20" y="261.10">6</text>
</g>
<text x="213.3" y="159.4" font-size="11.6" font-weight="bold" fill="#000" class="nb">D</text>
<text x="272.3" y="160.3" font-size="9.9" fill="#000" style="stroke-width:0.16px" textLength="56.6" lengthAdjust="spacingAndGlyphs">Lenalidomide</text>
<text x="286.9" y="178.3" font-size="7.3" fill="#111" style="stroke-width:0.1px" textLength="26.6" lengthAdjust="spacingAndGlyphs">p &lt;.001</text>
<text transform="translate(220.10,208.20) rotate(-90)" text-anchor="middle" font-size="9" fill="#000" style="stroke-width:0.32px" textLength="81.4" lengthAdjust="spacingAndGlyphs">Viable MM cells (norm %)</text>
<text x="268.90" y="274.3" font-size="9" fill="#000" style="stroke-width:0.3px" textLength="64.2" lengthAdjust="spacingAndGlyphs">Prior lines of therapy</text>
</g>
<g>
<path d="M413.50 217.03C416.17 216.87 424.17 216.87 429.50 216.03C434.83 215.20 440.17 213.11 445.50 212.02C450.83 210.94 456.17 210.65 461.50 209.52C466.83 208.39 472.17 206.98 477.50 205.26C482.83 203.54 488.17 201.58 493.50 199.20C498.83 196.82 506.83 192.35 509.50 190.98L509.50 207.01C506.83 207.30 498.83 207.97 493.50 208.72C488.17 209.47 482.83 210.55 477.50 211.52C472.17 212.49 466.83 213.61 461.50 214.53C456.17 215.45 450.83 215.20 445.50 217.03C440.17 218.87 434.83 224.63 429.50 225.55C424.17 226.47 416.17 223.05 413.50 222.54Z" fill="#dfe4ee"/>
<line x1="405.60" x2="513.50" y1="210.27" y2="210.27" stroke="#8c8c8c" stroke-width="1.1" stroke-dasharray="1.3,1.2"/>
<g fill="#a8001e">
<circle cx="413.50" cy="244.54" r="1.1"/>
<circle cx="413.50" cy="242.78" r="1.1"/>
<circle cx="413.50" cy="241.01" r="1.1"/>
<circle cx="413.50" cy="239.25" r="1.1"/>
<circle cx="413.50" cy="237.49" r="1.1"/>
<circle cx="413.50" cy="235.73" r="1.1"/>
<circle cx="413.50" cy="233.96" r="1.1"/>
<circle cx="413.50" cy="232.20" r="1.1"/>
<circle cx="413.50" cy="230.44" r="1.1"/>
<circle cx="413.50" cy="228.67" r="1.1"/>
<circle cx="413.50" cy="226.91" r="1.1"/>
<circle cx="413.50" cy="225.15" r="1.1"/>
<circle cx="413.50" cy="223.39" r="1.1"/>
<circle cx="413.50" cy="221.62" r="1.1"/>
<circle cx="413.50" cy="219.86" r="1.1"/>
<circle cx="413.50" cy="218.10" r="1.1"/>
<circle cx="413.50" cy="216.33" r="1.1"/>
<circle cx="413.50" cy="214.57" r="1.1"/>
<circle cx="413.50" cy="212.81" r="1.1"/>
<circle cx="413.50" cy="211.05" r="1.1"/>
<circle cx="413.50" cy="209.28" r="1.1"/>
<circle cx="413.50" cy="207.52" r="1.1"/>
<circle cx="413.50" cy="205.76" r="1.1"/>
<circle cx="413.50" cy="204.00" r="1.1"/>
<circle cx="413.50" cy="202.23" r="1.1"/>
<circle cx="413.50" cy="200.47" r="1.1"/>
<circle cx="413.50" cy="198.71" r="1.1"/>
<circle cx="413.50" cy="196.94" r="1.1"/>
<circle cx="429.50" cy="189.53" r="1.1"/>
<circle cx="429.50" cy="198.40" r="1.1"/>
<circle cx="429.50" cy="209.62" r="1.1"/>
<circle cx="429.50" cy="212.78" r="1.1"/>
<circle cx="429.50" cy="214.93" r="1.1"/>
<circle cx="429.50" cy="217.03" r="1.1"/>
<circle cx="429.50" cy="221.24" r="1.1"/>
<circle cx="429.50" cy="225.50" r="1.1"/>
<circle cx="429.50" cy="229.71" r="1.1"/>
<circle cx="429.50" cy="233.92" r="1.1"/>
<circle cx="429.50" cy="236.02" r="1.1"/>
<circle cx="445.50" cy="174.30" r="1.1"/>
<circle cx="445.50" cy="180.66" r="1.1"/>
<circle cx="445.50" cy="192.69" r="1.1"/>
<circle cx="445.50" cy="233.92" r="1.1"/>
<circle cx="445.50" cy="232.19" r="1.1"/>
<circle cx="445.50" cy="230.47" r="1.1"/>
<circle cx="445.50" cy="228.74" r="1.1"/>
<circle cx="445.50" cy="227.02" r="1.1"/>
<circle cx="445.50" cy="225.30" r="1.1"/>
<circle cx="445.50" cy="223.57" r="1.1"/>
<circle cx="445.50" cy="221.85" r="1.1"/>
<circle cx="445.50" cy="220.12" r="1.1"/>
<circle cx="445.50" cy="218.40" r="1.1"/>
<circle cx="445.50" cy="216.67" r="1.1"/>
<circle cx="445.50" cy="214.95" r="1.1"/>
<circle cx="445.50" cy="213.22" r="1.1"/>
<circle cx="445.50" cy="211.50" r="1.1"/>
<circle cx="445.50" cy="209.77" r="1.1"/>
<circle cx="445.50" cy="208.05" r="1.1"/>
<circle cx="445.50" cy="206.33" r="1.1"/>
<circle cx="445.50" cy="204.60" r="1.1"/>
<circle cx="445.50" cy="202.88" r="1.1"/>
<circle cx="445.50" cy="201.15" r="1.1"/>
<circle cx="445.50" cy="238.58" r="1.1"/>
<circle cx="461.50" cy="204.31" r="1.1"/>
<circle cx="461.50" cy="202.71" r="1.1"/>
<circle cx="461.50" cy="201.10" r="1.1"/>
<circle cx="461.50" cy="199.50" r="1.1"/>
<circle cx="461.50" cy="197.90" r="1.1"/>
<circle cx="461.50" cy="196.29" r="1.1"/>
<circle cx="461.50" cy="223.35" r="1.1"/>
<circle cx="461.50" cy="221.63" r="1.1"/>
<circle cx="461.50" cy="219.91" r="1.1"/>
<circle cx="461.50" cy="218.20" r="1.1"/>
<circle cx="461.50" cy="216.48" r="1.1"/>
<circle cx="461.50" cy="214.77" r="1.1"/>
<circle cx="461.50" cy="213.05" r="1.1"/>
<circle cx="461.50" cy="211.34" r="1.1"/>
<circle cx="461.50" cy="209.62" r="1.1"/>
<circle cx="461.50" cy="229.31" r="1.1"/>
<circle cx="477.50" cy="189.08" r="1.1"/>
<circle cx="477.50" cy="197.55" r="1.1"/>
<circle cx="477.50" cy="203.26" r="1.1"/>
<circle cx="477.50" cy="205.41" r="1.1"/>
<circle cx="477.50" cy="207.51" r="1.1"/>
<circle cx="477.50" cy="224.40" r="1.1"/>
<circle cx="477.50" cy="222.59" r="1.1"/>
<circle cx="477.50" cy="220.78" r="1.1"/>
<circle cx="477.50" cy="218.97" r="1.1"/>
<circle cx="477.50" cy="217.16" r="1.1"/>
<circle cx="477.50" cy="215.34" r="1.1"/>
<circle cx="477.50" cy="213.53" r="1.1"/>
<circle cx="477.50" cy="211.72" r="1.1"/>
<circle cx="493.50" cy="187.42" r="1.1"/>
<circle cx="493.50" cy="184.87" r="1.1"/>
<circle cx="493.50" cy="196.94" r="1.1"/>
<circle cx="493.50" cy="195.17" r="1.1"/>
<circle cx="493.50" cy="193.40" r="1.1"/>
<circle cx="493.50" cy="191.63" r="1.1"/>
<circle cx="493.50" cy="211.72" r="1.1"/>
<circle cx="493.50" cy="210.06" r="1.1"/>
<circle cx="493.50" cy="208.40" r="1.1"/>
<circle cx="493.50" cy="206.74" r="1.1"/>
<circle cx="493.50" cy="205.08" r="1.1"/>
<circle cx="493.50" cy="203.42" r="1.1"/>
<circle cx="493.50" cy="201.76" r="1.1"/>
<circle cx="493.50" cy="200.10" r="1.1"/>
<circle cx="509.50" cy="198.40" r="1.1"/>
<circle cx="509.50" cy="220.19" r="1.1"/>
</g>
<line x1="413.50" y1="219.59" x2="509.50" y2="204.81" stroke="#b8173a" stroke-width="1.2"/>
<path d="M413.50 219.54C416.17 219.54 424.17 220.35 429.50 219.54C434.83 218.73 440.17 215.93 445.50 214.68C450.83 213.43 456.17 213.05 461.50 212.02C466.83 211.00 472.17 209.84 477.50 208.52C482.83 207.20 488.17 205.44 493.50 204.11C498.83 202.77 506.83 201.10 509.50 200.50" fill="none" stroke="#3d5a94" stroke-width="1.25"/>
<path d="M405.60 166.90V250.10H513.00" fill="none" stroke="#111" stroke-width="1"/>
<g font-size="8.3" fill="#000" text-anchor="end">
<line x1="402.80" x2="405.60" y1="250.10" y2="250.10" stroke="#111" stroke-width="0.9"/>
<text x="399.00" y="252.90">0</text>
<line x1="402.80" x2="405.60" y1="240.08" y2="240.08" stroke="#111" stroke-width="0.9"/>
<text x="399.00" y="242.88">20</text>
<line x1="402.80" x2="405.60" y1="230.06" y2="230.06" stroke="#111" stroke-width="0.9"/>
<text x="399.00" y="232.86">40</text>
<line x1="402.80" x2="405.60" y1="220.04" y2="220.04" stroke="#111" stroke-width="0.9"/>
<text x="399.00" y="222.84">60</text>
<line x1="402.80" x2="405.60" y1="210.02" y2="210.02" stroke="#111" stroke-width="0.9"/>
<text x="399.00" y="212.82">80</text>
<line x1="402.80" x2="405.60" y1="200.00" y2="200.00" stroke="#111" stroke-width="0.9"/>
<text x="399.00" y="202.80">100</text>
<line x1="402.80" x2="405.60" y1="189.98" y2="189.98" stroke="#111" stroke-width="0.9"/>
<text x="399.00" y="192.78">120</text>
<line x1="402.80" x2="405.60" y1="179.96" y2="179.96" stroke="#111" stroke-width="0.9"/>
<text x="399.00" y="182.76">140</text>
<line x1="402.80" x2="405.60" y1="169.94" y2="169.94" stroke="#111" stroke-width="0.9"/>
<text x="399.00" y="172.74">160</text>
</g>
<g font-size="8.3" fill="#000" text-anchor="middle">
<line x1="413.50" x2="413.50" y1="250.10" y2="253.10" stroke="#111" stroke-width="0.9"/>
<text x="413.50" y="263.90">0</text>
<line x1="429.50" x2="429.50" y1="250.10" y2="253.10" stroke="#111" stroke-width="0.9"/>
<text x="429.50" y="263.90">1</text>
<line x1="445.50" x2="445.50" y1="250.10" y2="253.10" stroke="#111" stroke-width="0.9"/>
<text x="445.50" y="263.90">2</text>
<line x1="461.50" x2="461.50" y1="250.10" y2="253.10" stroke="#111" stroke-width="0.9"/>
<text x="461.50" y="263.90">3</text>
<line x1="477.50" x2="477.50" y1="250.10" y2="253.10" stroke="#111" stroke-width="0.9"/>
<text x="477.50" y="263.90">4</text>
<line x1="493.50" x2="493.50" y1="250.10" y2="253.10" stroke="#111" stroke-width="0.9"/>
<text x="493.50" y="263.90">5</text>
<line x1="509.50" x2="509.50" y1="250.10" y2="253.10" stroke="#111" stroke-width="0.9"/>
<text x="509.50" y="263.90">6</text>
</g>
<text x="372.1" y="159.6" font-size="11.6" font-weight="bold" fill="#000" class="nb">E</text>
<text x="429.2" y="160.0" font-size="9.9" fill="#000" style="stroke-width:0.16px" textLength="59.6" lengthAdjust="spacingAndGlyphs">Pomalidomide</text>
<text x="445.8" y="180.8" font-size="7.3" fill="#111" style="stroke-width:0.1px" textLength="25.7" lengthAdjust="spacingAndGlyphs">p &lt;.001</text>
<text transform="translate(378.40,210.90) rotate(-90)" text-anchor="middle" font-size="9" fill="#000" style="stroke-width:0.32px" textLength="81.0" lengthAdjust="spacingAndGlyphs">Viable MM cells (norm %)</text>
<text x="426.60" y="274.4" font-size="9" fill="#000" style="stroke-width:0.3px" textLength="64.2" lengthAdjust="spacingAndGlyphs">Prior lines of therapy</text>
</g>
<g>
<path d="M255.10 359.75C257.77 360.63 265.77 364.86 271.10 365.02C276.43 365.19 281.77 360.97 287.10 360.76C292.43 360.55 297.77 364.77 303.10 363.77C308.43 362.76 313.77 358.33 319.10 354.73C324.43 351.13 329.77 347.45 335.10 342.18C340.43 336.91 348.43 326.29 351.10 323.11L351.10 347.70C348.43 349.29 340.43 354.23 335.10 357.24C329.77 360.25 324.43 363.10 319.10 365.78C313.77 368.45 308.43 372.80 303.10 373.31C297.77 373.81 292.43 368.03 287.10 368.79C281.77 369.54 276.43 378.33 271.10 377.82C265.77 377.32 257.77 367.78 255.10 365.78Z" fill="#dfe4ee"/>
<line x1="247.30" x2="355.10" y1="356.99" y2="356.99" stroke="#8c8c8c" stroke-width="1.1" stroke-dasharray="1.3,1.2"/>
<g fill="#a8001e">
<circle cx="255.10" cy="393.69" r="1.1"/>
<circle cx="255.10" cy="391.94" r="1.1"/>
<circle cx="255.10" cy="390.20" r="1.1"/>
<circle cx="255.10" cy="388.45" r="1.1"/>
<circle cx="255.10" cy="386.71" r="1.1"/>
<circle cx="255.10" cy="384.96" r="1.1"/>
<circle cx="255.10" cy="383.22" r="1.1"/>
<circle cx="255.10" cy="381.47" r="1.1"/>
<circle cx="255.10" cy="379.73" r="1.1"/>
<circle cx="255.10" cy="377.98" r="1.1"/>
<circle cx="255.10" cy="376.24" r="1.1"/>
<circle cx="255.10" cy="374.49" r="1.1"/>
<circle cx="255.10" cy="372.75" r="1.1"/>
<circle cx="255.10" cy="371.00" r="1.1"/>
<circle cx="255.10" cy="369.26" r="1.1"/>
<circle cx="255.10" cy="367.52" r="1.1"/>
<circle cx="255.10" cy="365.77" r="1.1"/>
<circle cx="255.10" cy="364.03" r="1.1"/>
<circle cx="255.10" cy="362.28" r="1.1"/>
<circle cx="255.10" cy="360.54" r="1.1"/>
<circle cx="255.10" cy="358.79" r="1.1"/>
<circle cx="255.10" cy="357.05" r="1.1"/>
<circle cx="255.10" cy="355.30" r="1.1"/>
<circle cx="255.10" cy="353.56" r="1.1"/>
<circle cx="255.10" cy="351.81" r="1.1"/>
<circle cx="255.10" cy="350.07" r="1.1"/>
<circle cx="255.10" cy="348.32" r="1.1"/>
<circle cx="255.10" cy="346.58" r="1.1"/>
<circle cx="255.10" cy="344.83" r="1.1"/>
<circle cx="255.10" cy="343.09" r="1.1"/>
<circle cx="255.10" cy="341.34" r="1.1"/>
<circle cx="255.10" cy="339.60" r="1.1"/>
<circle cx="255.10" cy="337.85" r="1.1"/>
<circle cx="255.10" cy="336.11" r="1.1"/>
<circle cx="255.10" cy="334.36" r="1.1"/>
<circle cx="255.10" cy="332.62" r="1.1"/>
<circle cx="255.10" cy="330.87" r="1.1"/>
<circle cx="255.10" cy="329.13" r="1.1"/>
<circle cx="271.10" cy="340.78" r="1.1"/>
<circle cx="271.10" cy="341.83" r="1.1"/>
<circle cx="271.10" cy="356.24" r="1.1"/>
<circle cx="271.10" cy="357.29" r="1.1"/>
<circle cx="271.10" cy="358.35" r="1.1"/>
<circle cx="271.10" cy="375.72" r="1.1"/>
<circle cx="271.10" cy="373.96" r="1.1"/>
<circle cx="271.10" cy="372.20" r="1.1"/>
<circle cx="271.10" cy="370.44" r="1.1"/>
<circle cx="271.10" cy="368.69" r="1.1"/>
<circle cx="271.10" cy="366.93" r="1.1"/>
<circle cx="271.10" cy="365.17" r="1.1"/>
<circle cx="271.10" cy="363.42" r="1.1"/>
<circle cx="271.10" cy="392.63" r="1.1"/>
<circle cx="271.10" cy="390.88" r="1.1"/>
<circle cx="271.10" cy="389.12" r="1.1"/>
<circle cx="271.10" cy="387.36" r="1.1"/>
<circle cx="287.10" cy="325.37" r="1.1"/>
<circle cx="287.10" cy="333.40" r="1.1"/>
<circle cx="287.10" cy="339.32" r="1.1"/>
<circle cx="287.10" cy="358.75" r="1.1"/>
<circle cx="287.10" cy="357.03" r="1.1"/>
<circle cx="287.10" cy="355.31" r="1.1"/>
<circle cx="287.10" cy="353.59" r="1.1"/>
<circle cx="287.10" cy="351.87" r="1.1"/>
<circle cx="287.10" cy="350.15" r="1.1"/>
<circle cx="287.10" cy="348.43" r="1.1"/>
<circle cx="287.10" cy="346.71" r="1.1"/>
<circle cx="287.10" cy="344.99" r="1.1"/>
<circle cx="287.10" cy="387.36" r="1.1"/>
<circle cx="287.10" cy="385.67" r="1.1"/>
<circle cx="287.10" cy="383.98" r="1.1"/>
<circle cx="287.10" cy="382.28" r="1.1"/>
<circle cx="287.10" cy="380.59" r="1.1"/>
<circle cx="287.10" cy="378.89" r="1.1"/>
<circle cx="287.10" cy="377.20" r="1.1"/>
<circle cx="287.10" cy="375.51" r="1.1"/>
<circle cx="287.10" cy="373.81" r="1.1"/>
<circle cx="287.10" cy="372.12" r="1.1"/>
<circle cx="287.10" cy="370.43" r="1.1"/>
<circle cx="287.10" cy="368.73" r="1.1"/>
<circle cx="287.10" cy="367.04" r="1.1"/>
<circle cx="287.10" cy="365.35" r="1.1"/>
<circle cx="287.10" cy="363.65" r="1.1"/>
<circle cx="287.10" cy="361.96" r="1.1"/>
<circle cx="303.10" cy="357.69" r="1.1"/>
<circle cx="303.10" cy="355.94" r="1.1"/>
<circle cx="303.10" cy="354.18" r="1.1"/>
<circle cx="303.10" cy="352.42" r="1.1"/>
<circle cx="303.10" cy="350.67" r="1.1"/>
<circle cx="303.10" cy="348.91" r="1.1"/>
<circle cx="303.10" cy="347.15" r="1.1"/>
<circle cx="303.10" cy="371.45" r="1.1"/>
<circle cx="303.10" cy="369.55" r="1.1"/>
<circle cx="303.10" cy="367.65" r="1.1"/>
<circle cx="303.10" cy="365.76" r="1.1"/>
<circle cx="303.10" cy="363.86" r="1.1"/>
<circle cx="303.10" cy="361.96" r="1.1"/>
<circle cx="303.10" cy="387.36" r="1.1"/>
<circle cx="303.10" cy="385.77" r="1.1"/>
<circle cx="303.10" cy="384.17" r="1.1"/>
<circle cx="303.10" cy="382.58" r="1.1"/>
<circle cx="303.10" cy="380.99" r="1.1"/>
<circle cx="319.10" cy="355.59" r="1.1"/>
<circle cx="319.10" cy="354.00" r="1.1"/>
<circle cx="319.10" cy="352.42" r="1.1"/>
<circle cx="319.10" cy="383.09" r="1.1"/>
<circle cx="319.10" cy="381.33" r="1.1"/>
<circle cx="319.10" cy="379.57" r="1.1"/>
<circle cx="319.10" cy="377.81" r="1.1"/>
<circle cx="319.10" cy="376.05" r="1.1"/>
<circle cx="319.10" cy="374.29" r="1.1"/>
<circle cx="319.10" cy="372.53" r="1.1"/>
<circle cx="319.10" cy="370.77" r="1.1"/>
<circle cx="319.10" cy="369.01" r="1.1"/>
<circle cx="319.10" cy="367.24" r="1.1"/>
<circle cx="319.10" cy="365.48" r="1.1"/>
<circle cx="319.10" cy="363.72" r="1.1"/>
<circle cx="319.10" cy="361.96" r="1.1"/>
<circle cx="335.10" cy="317.53" r="1.1"/>
<circle cx="335.10" cy="315.68" r="1.1"/>
<circle cx="335.10" cy="313.82" r="1.1"/>
<circle cx="335.10" cy="311.96" r="1.1"/>
<circle cx="335.10" cy="310.10" r="1.1"/>
<circle cx="335.10" cy="330.18" r="1.1"/>
<circle cx="335.10" cy="341.83" r="1.1"/>
<circle cx="335.10" cy="339.99" r="1.1"/>
<circle cx="335.10" cy="338.14" r="1.1"/>
<circle cx="335.10" cy="336.30" r="1.1"/>
<circle cx="335.10" cy="334.45" r="1.1"/>
<circle cx="335.10" cy="353.48" r="1.1"/>
<circle cx="335.10" cy="351.37" r="1.1"/>
<circle cx="335.10" cy="362.56" r="1.1"/>
<circle cx="335.10" cy="371.45" r="1.1"/>
<circle cx="351.10" cy="350.31" r="1.1"/>
<circle cx="351.10" cy="348.73" r="1.1"/>
<circle cx="351.10" cy="347.15" r="1.1"/>
</g>
<line x1="255.10" y1="361.76" x2="351.10" y2="371.80" stroke="#b8173a" stroke-width="1.2"/>
<path d="M255.10 363.27C256.43 364.19 260.43 367.52 263.10 368.79C265.77 370.06 268.43 370.98 271.10 370.90C273.77 370.81 276.43 369.26 279.10 368.29C281.77 367.31 284.43 365.27 287.10 365.02C289.77 364.77 292.43 365.99 295.10 366.78C297.77 367.57 300.43 369.79 303.10 369.79C305.77 369.79 308.43 368.29 311.10 366.78C313.77 365.27 316.43 362.60 319.10 360.76C321.77 358.92 324.43 357.66 327.10 355.74C329.77 353.81 332.43 351.55 335.10 349.21C337.77 346.87 340.43 344.27 343.10 341.68C345.77 339.09 349.77 334.99 351.10 333.65" fill="none" stroke="#3d5a94" stroke-width="1.25"/>
<path d="M247.30 311.00V396.90H354.60" fill="none" stroke="#111" stroke-width="1"/>
<g font-size="8.3" fill="#000" text-anchor="end">
<line x1="244.50" x2="247.30" y1="396.90" y2="396.90" stroke="#111" stroke-width="0.9"/>
<text x="240.70" y="399.70">0</text>
<line x1="244.50" x2="247.30" y1="386.86" y2="386.86" stroke="#111" stroke-width="0.9"/>
<text x="240.70" y="389.66">20</text>
<line x1="244.50" x2="247.30" y1="376.82" y2="376.82" stroke="#111" stroke-width="0.9"/>
<text x="240.70" y="379.62">40</text>
<line x1="244.50" x2="247.30" y1="366.78" y2="366.78" stroke="#111" stroke-width="0.9"/>
<text x="240.70" y="369.58">60</text>
<line x1="244.50" x2="247.30" y1="356.74" y2="356.74" stroke="#111" stroke-width="0.9"/>
<text x="240.70" y="359.54">80</text>
<line x1="244.50" x2="247.30" y1="346.70" y2="346.70" stroke="#111" stroke-width="0.9"/>
<text x="240.70" y="349.50">100</text>
<line x1="244.50" x2="247.30" y1="336.66" y2="336.66" stroke="#111" stroke-width="0.9"/>
<text x="240.70" y="339.46">120</text>
<line x1="244.50" x2="247.30" y1="326.62" y2="326.62" stroke="#111" stroke-width="0.9"/>
<text x="240.70" y="329.42">140</text>
<line x1="244.50" x2="247.30" y1="316.58" y2="316.58" stroke="#111" stroke-width="0.9"/>
<text x="240.70" y="319.38">160</text>
</g>
<g font-size="8.3" fill="#000" text-anchor="middle">
<line x1="255.10" x2="255.10" y1="396.90" y2="399.90" stroke="#111" stroke-width="0.9"/>
<text x="255.10" y="410.70">0</text>
<line x1="271.10" x2="271.10" y1="396.90" y2="399.90" stroke="#111" stroke-width="0.9"/>
<text x="271.10" y="410.70">1</text>
<line x1="287.10" x2="287.10" y1="396.90" y2="399.90" stroke="#111" stroke-width="0.9"/>
<text x="287.10" y="410.70">2</text>
<line x1="303.10" x2="303.10" y1="396.90" y2="399.90" stroke="#111" stroke-width="0.9"/>
<text x="303.10" y="410.70">3</text>
<line x1="319.10" x2="319.10" y1="396.90" y2="399.90" stroke="#111" stroke-width="0.9"/>
<text x="319.10" y="410.70">4</text>
<line x1="335.10" x2="335.10" y1="396.90" y2="399.90" stroke="#111" stroke-width="0.9"/>
<text x="335.10" y="410.70">5</text>
<line x1="351.10" x2="351.10" y1="396.90" y2="399.90" stroke="#111" stroke-width="0.9"/>
<text x="351.10" y="410.70">6</text>
</g>
<text x="213.3" y="304.0" font-size="11.6" font-weight="bold" fill="#000" class="nb">F</text>
<text x="258.0" y="305.0" font-size="9.9" fill="#000" style="stroke-width:0.16px" textLength="82.4" lengthAdjust="spacingAndGlyphs">Cyclophosphamide</text>
<text x="295.8" y="318.0" font-size="7.3" fill="#111" style="stroke-width:0.1px" textLength="25.0" lengthAdjust="spacingAndGlyphs">p = .18</text>
<text transform="translate(220.10,358.10) rotate(-90)" text-anchor="middle" font-size="9" fill="#000" style="stroke-width:0.32px" textLength="81.2" lengthAdjust="spacingAndGlyphs">Viable MM cells (norm %)</text>
<text x="268.80" y="424.3" font-size="9" fill="#000" style="stroke-width:0.3px" textLength="64.2" lengthAdjust="spacingAndGlyphs">Prior lines of therapy</text>
</g>
<g>
<path d="M413.50 352.72C416.17 350.88 424.17 341.68 429.50 341.68C434.83 341.68 440.17 350.55 445.50 352.72C450.83 354.90 456.17 355.28 461.50 354.73C466.83 354.18 472.17 350.25 477.50 349.41C482.83 348.57 488.17 349.71 493.50 349.71C498.83 349.71 506.83 349.46 509.50 349.41L509.50 374.81C506.83 372.72 498.83 364.73 493.50 362.26C488.17 359.79 482.83 359.67 477.50 360.00C472.17 360.34 466.83 363.14 461.50 364.27C456.17 365.40 450.83 368.08 445.50 366.78C440.17 365.48 434.83 357.66 429.50 356.49C424.17 355.32 416.17 359.21 413.50 359.75Z" fill="#dfe4ee"/>
<line x1="405.60" x2="513.50" y1="356.99" y2="356.99" stroke="#8c8c8c" stroke-width="1.1" stroke-dasharray="1.3,1.2"/>
<g fill="#a8001e">
<circle cx="413.50" cy="386.26" r="1.1"/>
<circle cx="413.50" cy="384.50" r="1.1"/>
<circle cx="413.50" cy="382.75" r="1.1"/>
<circle cx="413.50" cy="380.99" r="1.1"/>
<circle cx="413.50" cy="379.23" r="1.1"/>
<circle cx="413.50" cy="377.48" r="1.1"/>
<circle cx="413.50" cy="375.72" r="1.1"/>
<circle cx="413.50" cy="373.97" r="1.1"/>
<circle cx="413.50" cy="372.21" r="1.1"/>
<circle cx="413.50" cy="370.46" r="1.1"/>
<circle cx="413.50" cy="368.70" r="1.1"/>
<circle cx="413.50" cy="366.94" r="1.1"/>
<circle cx="413.50" cy="365.19" r="1.1"/>
<circle cx="413.50" cy="363.43" r="1.1"/>
<circle cx="413.50" cy="361.68" r="1.1"/>
<circle cx="413.50" cy="359.92" r="1.1"/>
<circle cx="413.50" cy="358.17" r="1.1"/>
<circle cx="413.50" cy="356.41" r="1.1"/>
<circle cx="413.50" cy="354.65" r="1.1"/>
<circle cx="413.50" cy="352.90" r="1.1"/>
<circle cx="413.50" cy="351.14" r="1.1"/>
<circle cx="413.50" cy="349.39" r="1.1"/>
<circle cx="413.50" cy="347.63" r="1.1"/>
<circle cx="413.50" cy="345.88" r="1.1"/>
<circle cx="413.50" cy="344.12" r="1.1"/>
<circle cx="413.50" cy="342.36" r="1.1"/>
<circle cx="413.50" cy="340.61" r="1.1"/>
<circle cx="413.50" cy="338.85" r="1.1"/>
<circle cx="413.50" cy="337.10" r="1.1"/>
<circle cx="413.50" cy="335.34" r="1.1"/>
<circle cx="413.50" cy="333.59" r="1.1"/>
<circle cx="413.50" cy="331.83" r="1.1"/>
<circle cx="413.50" cy="330.07" r="1.1"/>
<circle cx="413.50" cy="328.32" r="1.1"/>
<circle cx="413.50" cy="326.56" r="1.1"/>
<circle cx="413.50" cy="324.81" r="1.1"/>
<circle cx="413.50" cy="323.05" r="1.1"/>
<circle cx="413.50" cy="321.30" r="1.1"/>
<circle cx="413.50" cy="319.54" r="1.1"/>
<circle cx="413.50" cy="317.78" r="1.1"/>
<circle cx="413.50" cy="316.03" r="1.1"/>
<circle cx="429.50" cy="318.99" r="1.1"/>
<circle cx="429.50" cy="340.78" r="1.1"/>
<circle cx="429.50" cy="338.93" r="1.1"/>
<circle cx="429.50" cy="337.07" r="1.1"/>
<circle cx="429.50" cy="335.22" r="1.1"/>
<circle cx="429.50" cy="333.37" r="1.1"/>
<circle cx="429.50" cy="331.52" r="1.1"/>
<circle cx="429.50" cy="329.67" r="1.1"/>
<circle cx="429.50" cy="327.82" r="1.1"/>
<circle cx="429.50" cy="325.97" r="1.1"/>
<circle cx="429.50" cy="353.48" r="1.1"/>
<circle cx="429.50" cy="351.79" r="1.1"/>
<circle cx="429.50" cy="350.10" r="1.1"/>
<circle cx="429.50" cy="348.42" r="1.1"/>
<circle cx="429.50" cy="346.73" r="1.1"/>
<circle cx="429.50" cy="345.04" r="1.1"/>
<circle cx="429.50" cy="371.45" r="1.1"/>
<circle cx="429.50" cy="369.63" r="1.1"/>
<circle cx="429.50" cy="367.82" r="1.1"/>
<circle cx="429.50" cy="366.01" r="1.1"/>
<circle cx="429.50" cy="364.19" r="1.1"/>
<circle cx="429.50" cy="362.38" r="1.1"/>
<circle cx="429.50" cy="360.56" r="1.1"/>
<circle cx="429.50" cy="358.75" r="1.1"/>
<circle cx="429.50" cy="377.82" r="1.1"/>
<circle cx="445.50" cy="336.56" r="1.1"/>
<circle cx="445.50" cy="382.04" r="1.1"/>
<circle cx="445.50" cy="380.28" r="1.1"/>
<circle cx="445.50" cy="378.52" r="1.1"/>
<circle cx="445.50" cy="376.76" r="1.1"/>
<circle cx="445.50" cy="374.99" r="1.1"/>
<circle cx="445.50" cy="373.23" r="1.1"/>
<circle cx="445.50" cy="371.47" r="1.1"/>
<circle cx="445.50" cy="369.71" r="1.1"/>
<circle cx="445.50" cy="367.95" r="1.1"/>
<circle cx="445.50" cy="366.18" r="1.1"/>
<circle cx="445.50" cy="364.42" r="1.1"/>
<circle cx="445.50" cy="362.66" r="1.1"/>
<circle cx="445.50" cy="360.90" r="1.1"/>
<circle cx="445.50" cy="359.14" r="1.1"/>
<circle cx="445.50" cy="357.38" r="1.1"/>
<circle cx="445.50" cy="355.61" r="1.1"/>
<circle cx="445.50" cy="353.85" r="1.1"/>
<circle cx="445.50" cy="352.09" r="1.1"/>
<circle cx="445.50" cy="350.33" r="1.1"/>
<circle cx="445.50" cy="348.57" r="1.1"/>
<circle cx="445.50" cy="346.81" r="1.1"/>
<circle cx="445.50" cy="345.04" r="1.1"/>
<circle cx="461.50" cy="364.07" r="1.1"/>
<circle cx="461.50" cy="362.28" r="1.1"/>
<circle cx="461.50" cy="360.49" r="1.1"/>
<circle cx="461.50" cy="358.69" r="1.1"/>
<circle cx="461.50" cy="356.90" r="1.1"/>
<circle cx="461.50" cy="355.11" r="1.1"/>
<circle cx="461.50" cy="353.32" r="1.1"/>
<circle cx="461.50" cy="351.53" r="1.1"/>
<circle cx="461.50" cy="349.74" r="1.1"/>
<circle cx="461.50" cy="347.94" r="1.1"/>
<circle cx="461.50" cy="346.15" r="1.1"/>
<circle cx="461.50" cy="344.36" r="1.1"/>
<circle cx="461.50" cy="342.57" r="1.1"/>
<circle cx="461.50" cy="340.78" r="1.1"/>
<circle cx="461.50" cy="387.36" r="1.1"/>
<circle cx="461.50" cy="385.76" r="1.1"/>
<circle cx="461.50" cy="384.15" r="1.1"/>
<circle cx="477.50" cy="369.34" r="1.1"/>
<circle cx="477.50" cy="367.60" r="1.1"/>
<circle cx="477.50" cy="365.87" r="1.1"/>
<circle cx="477.50" cy="364.13" r="1.1"/>
<circle cx="477.50" cy="362.40" r="1.1"/>
<circle cx="477.50" cy="360.66" r="1.1"/>
<circle cx="477.50" cy="358.93" r="1.1"/>
<circle cx="477.50" cy="357.19" r="1.1"/>
<circle cx="477.50" cy="355.46" r="1.1"/>
<circle cx="477.50" cy="353.72" r="1.1"/>
<circle cx="477.50" cy="351.99" r="1.1"/>
<circle cx="477.50" cy="350.25" r="1.1"/>
<circle cx="477.50" cy="348.51" r="1.1"/>
<circle cx="477.50" cy="346.78" r="1.1"/>
<circle cx="477.50" cy="345.04" r="1.1"/>
<circle cx="493.50" cy="323.86" r="1.1"/>
<circle cx="493.50" cy="322.28" r="1.1"/>
<circle cx="493.50" cy="320.70" r="1.1"/>
<circle cx="493.50" cy="319.12" r="1.1"/>
<circle cx="493.50" cy="317.53" r="1.1"/>
<circle cx="493.50" cy="336.56" r="1.1"/>
<circle cx="493.50" cy="334.97" r="1.1"/>
<circle cx="493.50" cy="333.37" r="1.1"/>
<circle cx="493.50" cy="331.78" r="1.1"/>
<circle cx="493.50" cy="330.18" r="1.1"/>
<circle cx="493.50" cy="348.21" r="1.1"/>
<circle cx="493.50" cy="346.07" r="1.1"/>
<circle cx="493.50" cy="343.94" r="1.1"/>
<circle cx="493.50" cy="365.12" r="1.1"/>
<circle cx="493.50" cy="363.46" r="1.1"/>
<circle cx="493.50" cy="361.80" r="1.1"/>
<circle cx="493.50" cy="360.13" r="1.1"/>
<circle cx="493.50" cy="358.47" r="1.1"/>
<circle cx="493.50" cy="356.80" r="1.1"/>
<circle cx="493.50" cy="355.14" r="1.1"/>
<circle cx="493.50" cy="353.48" r="1.1"/>
<circle cx="509.50" cy="389.42" r="1.1"/>
<circle cx="509.50" cy="387.31" r="1.1"/>
<circle cx="509.50" cy="385.20" r="1.1"/>
</g>
<line x1="413.50" y1="356.24" x2="509.50" y2="359.25" stroke="#b8173a" stroke-width="1.2"/>
<path d="M413.50 356.24C414.83 355.42 418.83 352.49 421.50 351.32C424.17 350.15 426.83 348.87 429.50 349.21C432.17 349.55 434.83 351.62 437.50 353.38C440.17 355.13 442.83 358.44 445.50 359.75C448.17 361.07 450.83 361.17 453.50 361.26C456.17 361.34 458.83 360.97 461.50 360.25C464.17 359.54 466.83 357.96 469.50 356.99C472.17 356.02 474.83 355.02 477.50 354.43C480.17 353.84 482.83 353.43 485.50 353.43C488.17 353.43 490.83 353.71 493.50 354.43C496.17 355.15 498.83 356.52 501.50 357.74C504.17 358.97 508.17 361.09 509.50 361.76" fill="none" stroke="#3d5a94" stroke-width="1.25"/>
<path d="M405.60 311.00V396.90H513.00" fill="none" stroke="#111" stroke-width="1"/>
<g font-size="8.3" fill="#000" text-anchor="end">
<line x1="402.80" x2="405.60" y1="396.90" y2="396.90" stroke="#111" stroke-width="0.9"/>
<text x="399.00" y="399.70">0</text>
<line x1="402.80" x2="405.60" y1="386.86" y2="386.86" stroke="#111" stroke-width="0.9"/>
<text x="399.00" y="389.66">20</text>
<line x1="402.80" x2="405.60" y1="376.82" y2="376.82" stroke="#111" stroke-width="0.9"/>
<text x="399.00" y="379.62">40</text>
<line x1="402.80" x2="405.60" y1="366.78" y2="366.78" stroke="#111" stroke-width="0.9"/>
<text x="399.00" y="369.58">60</text>
<line x1="402.80" x2="405.60" y1="356.74" y2="356.74" stroke="#111" stroke-width="0.9"/>
<text x="399.00" y="359.54">80</text>
<line x1="402.80" x2="405.60" y1="346.70" y2="346.70" stroke="#111" stroke-width="0.9"/>
<text x="399.00" y="349.50">100</text>
<line x1="402.80" x2="405.60" y1="336.66" y2="336.66" stroke="#111" stroke-width="0.9"/>
<text x="399.00" y="339.46">120</text>
<line x1="402.80" x2="405.60" y1="326.62" y2="326.62" stroke="#111" stroke-width="0.9"/>
<text x="399.00" y="329.42">140</text>
<line x1="402.80" x2="405.60" y1="316.58" y2="316.58" stroke="#111" stroke-width="0.9"/>
<text x="399.00" y="319.38">160</text>
</g>
<g font-size="8.3" fill="#000" text-anchor="middle">
<line x1="413.50" x2="413.50" y1="396.90" y2="399.90" stroke="#111" stroke-width="0.9"/>
<text x="413.50" y="410.70">0</text>
<line x1="429.50" x2="429.50" y1="396.90" y2="399.90" stroke="#111" stroke-width="0.9"/>
<text x="429.50" y="410.70">1</text>
<line x1="445.50" x2="445.50" y1="396.90" y2="399.90" stroke="#111" stroke-width="0.9"/>
<text x="445.50" y="410.70">2</text>
<line x1="461.50" x2="461.50" y1="396.90" y2="399.90" stroke="#111" stroke-width="0.9"/>
<text x="461.50" y="410.70">3</text>
<line x1="477.50" x2="477.50" y1="396.90" y2="399.90" stroke="#111" stroke-width="0.9"/>
<text x="477.50" y="410.70">4</text>
<line x1="493.50" x2="493.50" y1="396.90" y2="399.90" stroke="#111" stroke-width="0.9"/>
<text x="493.50" y="410.70">5</text>
<line x1="509.50" x2="509.50" y1="396.90" y2="399.90" stroke="#111" stroke-width="0.9"/>
<text x="509.50" y="410.70">6</text>
</g>
<text x="371.8" y="304.4" font-size="11.6" font-weight="bold" fill="#000" class="nb">G</text>
<text x="425.0" y="306.4" font-size="9.9" fill="#000" style="stroke-width:0.16px" textLength="68.7" lengthAdjust="spacingAndGlyphs">Dexamethasone</text>
<text x="446.5" y="315.5" font-size="7.3" fill="#111" style="stroke-width:0.1px" textLength="25.0" lengthAdjust="spacingAndGlyphs">p = .65</text>
<text transform="translate(378.40,358.10) rotate(-90)" text-anchor="middle" font-size="9" fill="#000" style="stroke-width:0.32px" textLength="81.2" lengthAdjust="spacingAndGlyphs">Viable MM cells (norm %)</text>
<text x="426.60" y="424.2" font-size="9" fill="#000" style="stroke-width:0.3px" textLength="64.2" lengthAdjust="spacingAndGlyphs">Prior lines of therapy</text>
</g>
<g>
<line x1="302.40" x2="302.40" y1="468.50" y2="550.20" stroke="#8c8c8c" stroke-width="1.1" stroke-dasharray="1.3,1.2"/>
<line x1="247.20" x2="349.45" y1="507.52" y2="507.52" stroke="#8c8c8c" stroke-width="1.1" stroke-dasharray="1.3,1.2"/>
<g fill="#a8001e">
<circle cx="250.64" cy="549.66" r="1.6"/>
<circle cx="271.26" cy="527.69" r="1.6"/>
<circle cx="248.57" cy="550.20" r="1.6"/>
<circle cx="256.14" cy="541.09" r="1.6"/>
<circle cx="278.14" cy="510.54" r="1.6"/>
<circle cx="291.20" cy="535.73" r="1.6"/>
<circle cx="285.70" cy="544.30" r="1.6"/>
<circle cx="309.76" cy="503.57" r="1.6"/>
<circle cx="279.51" cy="503.57" r="1.6"/>
<circle cx="257.51" cy="547.52" r="1.6"/>
<circle cx="252.01" cy="536.26" r="1.6"/>
<circle cx="278.82" cy="510.54" r="1.6"/>
<circle cx="254.07" cy="527.69" r="1.6"/>
<circle cx="256.82" cy="534.12" r="1.6"/>
<circle cx="263.01" cy="518.04" r="1.6"/>
<circle cx="297.39" cy="503.03" r="1.6"/>
<circle cx="254.07" cy="538.94" r="1.6"/>
<circle cx="282.95" cy="519.11" r="1.6"/>
<circle cx="309.07" cy="501.42" r="1.6"/>
<circle cx="291.20" cy="529.30" r="1.6"/>
<circle cx="280.20" cy="524.47" r="1.6"/>
<circle cx="264.39" cy="501.42" r="1.6"/>
<circle cx="285.70" cy="501.96" r="1.6"/>
<circle cx="291.20" cy="533.05" r="1.6"/>
<circle cx="287.76" cy="506.78" r="1.6"/>
<circle cx="278.14" cy="523.40" r="1.6"/>
<circle cx="253.39" cy="550.20" r="1.6"/>
<circle cx="311.82" cy="510.54" r="1.6"/>
<circle cx="291.89" cy="504.64" r="1.6"/>
<circle cx="256.14" cy="525.54" r="1.6"/>
<circle cx="261.64" cy="549.13" r="1.6"/>
<circle cx="263.70" cy="543.23" r="1.6"/>
<circle cx="311.14" cy="513.22" r="1.6"/>
<circle cx="282.26" cy="543.23" r="1.6"/>
<circle cx="271.95" cy="526.08" r="1.6"/>
<circle cx="320.07" cy="497.67" r="1.6"/>
<circle cx="265.07" cy="511.61" r="1.6"/>
<circle cx="307.01" cy="497.14" r="1.6"/>
<circle cx="271.26" cy="521.79" r="1.6"/>
<circle cx="296.70" cy="498.74" r="1.6"/>
<circle cx="284.32" cy="525.01" r="1.6"/>
<circle cx="254.76" cy="540.02" r="1.6"/>
<circle cx="285.01" cy="510.00" r="1.6"/>
<circle cx="291.89" cy="510.54" r="1.6"/>
<circle cx="284.32" cy="503.57" r="1.6"/>
<circle cx="265.76" cy="497.14" r="1.6"/>
<circle cx="254.76" cy="548.06" r="1.6"/>
<circle cx="280.89" cy="490.17" r="1.6"/>
<circle cx="303.57" cy="507.86" r="1.6"/>
<circle cx="267.82" cy="526.62" r="1.6"/>
<circle cx="273.32" cy="536.80" r="1.6"/>
<circle cx="323.51" cy="511.61" r="1.6"/>
<circle cx="302.89" cy="505.18" r="1.6"/>
<circle cx="328.32" cy="487.49" r="1.6"/>
<circle cx="279.51" cy="505.71" r="1.6"/>
</g>
<line x1="247.20" y1="539.37" x2="327.98" y2="492.63" stroke="#b8173a" stroke-width="1.2"/>
<path d="M247.20 468.50V550.20H349.75" fill="none" stroke="#111" stroke-width="1"/>
<g font-size="8.3" fill="#000" text-anchor="end">
<line x1="244.40" x2="247.20" y1="550.20" y2="550.20" stroke="#111" stroke-width="0.9"/>
<text x="240.70" y="553.00">0</text>
<line x1="244.40" x2="247.20" y1="539.48" y2="539.48" stroke="#111" stroke-width="0.9"/>
<text x="240.70" y="542.28">20</text>
<line x1="244.40" x2="247.20" y1="528.76" y2="528.76" stroke="#111" stroke-width="0.9"/>
<text x="240.70" y="531.56">40</text>
<line x1="244.40" x2="247.20" y1="518.04" y2="518.04" stroke="#111" stroke-width="0.9"/>
<text x="240.70" y="520.84">60</text>
<line x1="244.40" x2="247.20" y1="507.32" y2="507.32" stroke="#111" stroke-width="0.9"/>
<text x="240.70" y="510.12">80</text>
<line x1="244.40" x2="247.20" y1="496.60" y2="496.60" stroke="#111" stroke-width="0.9"/>
<text x="240.70" y="499.40">100</text>
<line x1="244.40" x2="247.20" y1="485.88" y2="485.88" stroke="#111" stroke-width="0.9"/>
<text x="240.70" y="488.68">120</text>
<line x1="244.40" x2="247.20" y1="475.16" y2="475.16" stroke="#111" stroke-width="0.9"/>
<text x="240.70" y="477.96">140</text>
</g>
<g font-size="8" fill="#000" text-anchor="end">
<line x1="247.20" x2="247.20" y1="550.20" y2="553.20" stroke="#111" stroke-width="0.9"/>
<text transform="translate(249.90,559.80) rotate(-45)">0</text>
<line x1="260.95" x2="260.95" y1="550.20" y2="553.20" stroke="#111" stroke-width="0.9"/>
<text transform="translate(263.65,559.80) rotate(-45)">20</text>
<line x1="274.70" x2="274.70" y1="550.20" y2="553.20" stroke="#111" stroke-width="0.9"/>
<text transform="translate(277.40,559.80) rotate(-45)">40</text>
<line x1="288.45" x2="288.45" y1="550.20" y2="553.20" stroke="#111" stroke-width="0.9"/>
<text transform="translate(291.15,559.80) rotate(-45)">60</text>
<line x1="302.20" x2="302.20" y1="550.20" y2="553.20" stroke="#111" stroke-width="0.9"/>
<text transform="translate(304.90,559.80) rotate(-45)">80</text>
<line x1="315.95" x2="315.95" y1="550.20" y2="553.20" stroke="#111" stroke-width="0.9"/>
<text transform="translate(318.65,559.80) rotate(-45)">100</text>
<line x1="329.70" x2="329.70" y1="550.20" y2="553.20" stroke="#111" stroke-width="0.9"/>
<text transform="translate(332.40,559.80) rotate(-45)">120</text>
<line x1="343.45" x2="343.45" y1="550.20" y2="553.20" stroke="#111" stroke-width="0.9"/>
<text transform="translate(346.15,559.80) rotate(-45)">140</text>
</g>
<text x="213.0" y="453.8" font-size="11.6" font-weight="bold" fill="#000" class="nb">H</text>
<text x="251.20" y="476.6" font-size="7.3" fill="#111" textLength="23.2" lengthAdjust="spacingAndGlyphs"><tspan font-style="italic">r</tspan> = 0.67</text>
<text x="251.20" y="484.1" font-size="7.3" fill="#111" textLength="32.2" lengthAdjust="spacingAndGlyphs">p &lt; 0.0001</text>
<text transform="translate(220.10,509.45) rotate(-90)" text-anchor="middle" font-size="9" fill="#000" style="stroke-width:0.32px" textLength="95.9" lengthAdjust="spacingAndGlyphs">Car: Viable MM cells (norm %)</text>
<text x="252.0" y="584.1" font-size="9" fill="#000" style="stroke-width:0.3px" textLength="95.7" lengthAdjust="spacingAndGlyphs">Bor: Viable MM cells (norm %)</text>
</g>
<g>
<line x1="460.70" x2="460.70" y1="468.20" y2="550.00" stroke="#8c8c8c" stroke-width="1.1" stroke-dasharray="1.3,1.2"/>
<line x1="405.50" x2="507.75" y1="506.52" y2="506.52" stroke="#8c8c8c" stroke-width="1.1" stroke-dasharray="1.3,1.2"/>
<g fill="#a8001e">
<circle cx="470.81" cy="504.14" r="1.6"/>
<circle cx="438.50" cy="509.60" r="1.6"/>
<circle cx="466.00" cy="520.52" r="1.6"/>
<circle cx="426.81" cy="528.16" r="1.6"/>
<circle cx="463.94" cy="508.50" r="1.6"/>
<circle cx="456.38" cy="493.76" r="1.6"/>
<circle cx="416.50" cy="531.44" r="1.6"/>
<circle cx="456.38" cy="504.68" r="1.6"/>
<circle cx="465.31" cy="491.03" r="1.6"/>
<circle cx="461.19" cy="497.58" r="1.6"/>
<circle cx="454.31" cy="503.04" r="1.6"/>
<circle cx="431.62" cy="528.16" r="1.6"/>
<circle cx="448.12" cy="521.61" r="1.6"/>
<circle cx="461.88" cy="503.59" r="1.6"/>
<circle cx="441.25" cy="512.87" r="1.6"/>
<circle cx="457.75" cy="504.14" r="1.6"/>
<circle cx="434.38" cy="526.52" r="1.6"/>
<circle cx="476.31" cy="509.05" r="1.6"/>
<circle cx="454.31" cy="512.87" r="1.6"/>
<circle cx="468.06" cy="512.33" r="1.6"/>
<circle cx="455.69" cy="511.23" r="1.6"/>
<circle cx="469.44" cy="499.77" r="1.6"/>
<circle cx="470.12" cy="500.31" r="1.6"/>
<circle cx="445.38" cy="521.61" r="1.6"/>
<circle cx="450.88" cy="504.68" r="1.6"/>
<circle cx="479.75" cy="485.03" r="1.6"/>
<circle cx="426.81" cy="528.71" r="1.6"/>
<circle cx="455.69" cy="510.69" r="1.6"/>
<circle cx="452.25" cy="512.33" r="1.6"/>
<circle cx="448.81" cy="523.79" r="1.6"/>
<circle cx="437.81" cy="516.69" r="1.6"/>
<circle cx="443.31" cy="521.61" r="1.6"/>
<circle cx="475.62" cy="500.86" r="1.6"/>
<circle cx="480.44" cy="471.92" r="1.6"/>
<circle cx="446.75" cy="523.25" r="1.6"/>
<circle cx="472.19" cy="498.13" r="1.6"/>
<circle cx="455.69" cy="512.87" r="1.6"/>
<circle cx="485.25" cy="501.41" r="1.6"/>
<circle cx="450.19" cy="513.42" r="1.6"/>
<circle cx="462.56" cy="501.95" r="1.6"/>
<circle cx="459.12" cy="497.04" r="1.6"/>
<circle cx="455.69" cy="512.87" r="1.6"/>
<circle cx="459.81" cy="514.51" r="1.6"/>
<circle cx="470.81" cy="498.13" r="1.6"/>
<circle cx="462.56" cy="493.76" r="1.6"/>
<circle cx="459.81" cy="514.51" r="1.6"/>
<circle cx="471.50" cy="489.94" r="1.6"/>
<circle cx="462.56" cy="486.12" r="1.6"/>
<circle cx="461.19" cy="501.95" r="1.6"/>
<circle cx="477.00" cy="504.68" r="1.6"/>
<circle cx="501.75" cy="483.93" r="1.6"/>
<circle cx="491.44" cy="486.66" r="1.6"/>
<circle cx="467.38" cy="496.49" r="1.6"/>
<circle cx="470.81" cy="497.58" r="1.6"/>
<circle cx="465.31" cy="496.49" r="1.6"/>
</g>
<line x1="416.29" y1="533.67" x2="501.75" y2="479.51" stroke="#b8173a" stroke-width="1.2"/>
<path d="M405.50 468.20V550.00H508.05" fill="none" stroke="#111" stroke-width="1"/>
<g font-size="8.3" fill="#000" text-anchor="end">
<line x1="402.70" x2="405.50" y1="550.00" y2="550.00" stroke="#111" stroke-width="0.9"/>
<text x="399.00" y="552.80">0</text>
<line x1="402.70" x2="405.50" y1="539.08" y2="539.08" stroke="#111" stroke-width="0.9"/>
<text x="399.00" y="541.88">20</text>
<line x1="402.70" x2="405.50" y1="528.16" y2="528.16" stroke="#111" stroke-width="0.9"/>
<text x="399.00" y="530.96">40</text>
<line x1="402.70" x2="405.50" y1="517.24" y2="517.24" stroke="#111" stroke-width="0.9"/>
<text x="399.00" y="520.04">60</text>
<line x1="402.70" x2="405.50" y1="506.32" y2="506.32" stroke="#111" stroke-width="0.9"/>
<text x="399.00" y="509.12">80</text>
<line x1="402.70" x2="405.50" y1="495.40" y2="495.40" stroke="#111" stroke-width="0.9"/>
<text x="399.00" y="498.20">100</text>
<line x1="402.70" x2="405.50" y1="484.48" y2="484.48" stroke="#111" stroke-width="0.9"/>
<text x="399.00" y="487.28">120</text>
<line x1="402.70" x2="405.50" y1="473.56" y2="473.56" stroke="#111" stroke-width="0.9"/>
<text x="399.00" y="476.36">140</text>
</g>
<g font-size="8" fill="#000" text-anchor="end">
<line x1="405.50" x2="405.50" y1="550.00" y2="553.00" stroke="#111" stroke-width="0.9"/>
<text transform="translate(408.20,559.60) rotate(-45)">0</text>
<line x1="419.25" x2="419.25" y1="550.00" y2="553.00" stroke="#111" stroke-width="0.9"/>
<text transform="translate(421.95,559.60) rotate(-45)">20</text>
<line x1="433.00" x2="433.00" y1="550.00" y2="553.00" stroke="#111" stroke-width="0.9"/>
<text transform="translate(435.70,559.60) rotate(-45)">40</text>
<line x1="446.75" x2="446.75" y1="550.00" y2="553.00" stroke="#111" stroke-width="0.9"/>
<text transform="translate(449.45,559.60) rotate(-45)">60</text>
<line x1="460.50" x2="460.50" y1="550.00" y2="553.00" stroke="#111" stroke-width="0.9"/>
<text transform="translate(463.20,559.60) rotate(-45)">80</text>
<line x1="474.25" x2="474.25" y1="550.00" y2="553.00" stroke="#111" stroke-width="0.9"/>
<text transform="translate(476.95,559.60) rotate(-45)">100</text>
<line x1="488.00" x2="488.00" y1="550.00" y2="553.00" stroke="#111" stroke-width="0.9"/>
<text transform="translate(490.70,559.60) rotate(-45)">120</text>
<line x1="501.75" x2="501.75" y1="550.00" y2="553.00" stroke="#111" stroke-width="0.9"/>
<text transform="translate(504.45,559.60) rotate(-45)">140</text>
</g>
<text x="372.3" y="453.5" font-size="11.6" font-weight="bold" fill="#000" class="nb">I</text>
<text x="412.00" y="476.6" font-size="7.3" fill="#111" textLength="23.2" lengthAdjust="spacingAndGlyphs"><tspan font-style="italic">r</tspan> = 0.79</text>
<text x="412.00" y="484.1" font-size="7.3" fill="#111" textLength="32.2" lengthAdjust="spacingAndGlyphs">p &lt; 0.0001</text>
<text transform="translate(378.40,509.90) rotate(-90)" text-anchor="middle" font-size="9" fill="#000" style="stroke-width:0.32px" textLength="96.8" lengthAdjust="spacingAndGlyphs">Pom: Viable MM cells (norm %)</text>
<text x="411.0" y="584.1" font-size="9" fill="#000" style="stroke-width:0.3px" textLength="96.0" lengthAdjust="spacingAndGlyphs">Len: Viable MM cells (norm %)</text>
</g>
<rect x="0.5" y="0.5" width="519" height="595" fill="none" stroke="#000" stroke-width="1"/>
<text x="8.5" y="14.8" font-size="11.6" font-weight="bold" fill="#000" class="nb">A</text>
</svg>
</body></html>
